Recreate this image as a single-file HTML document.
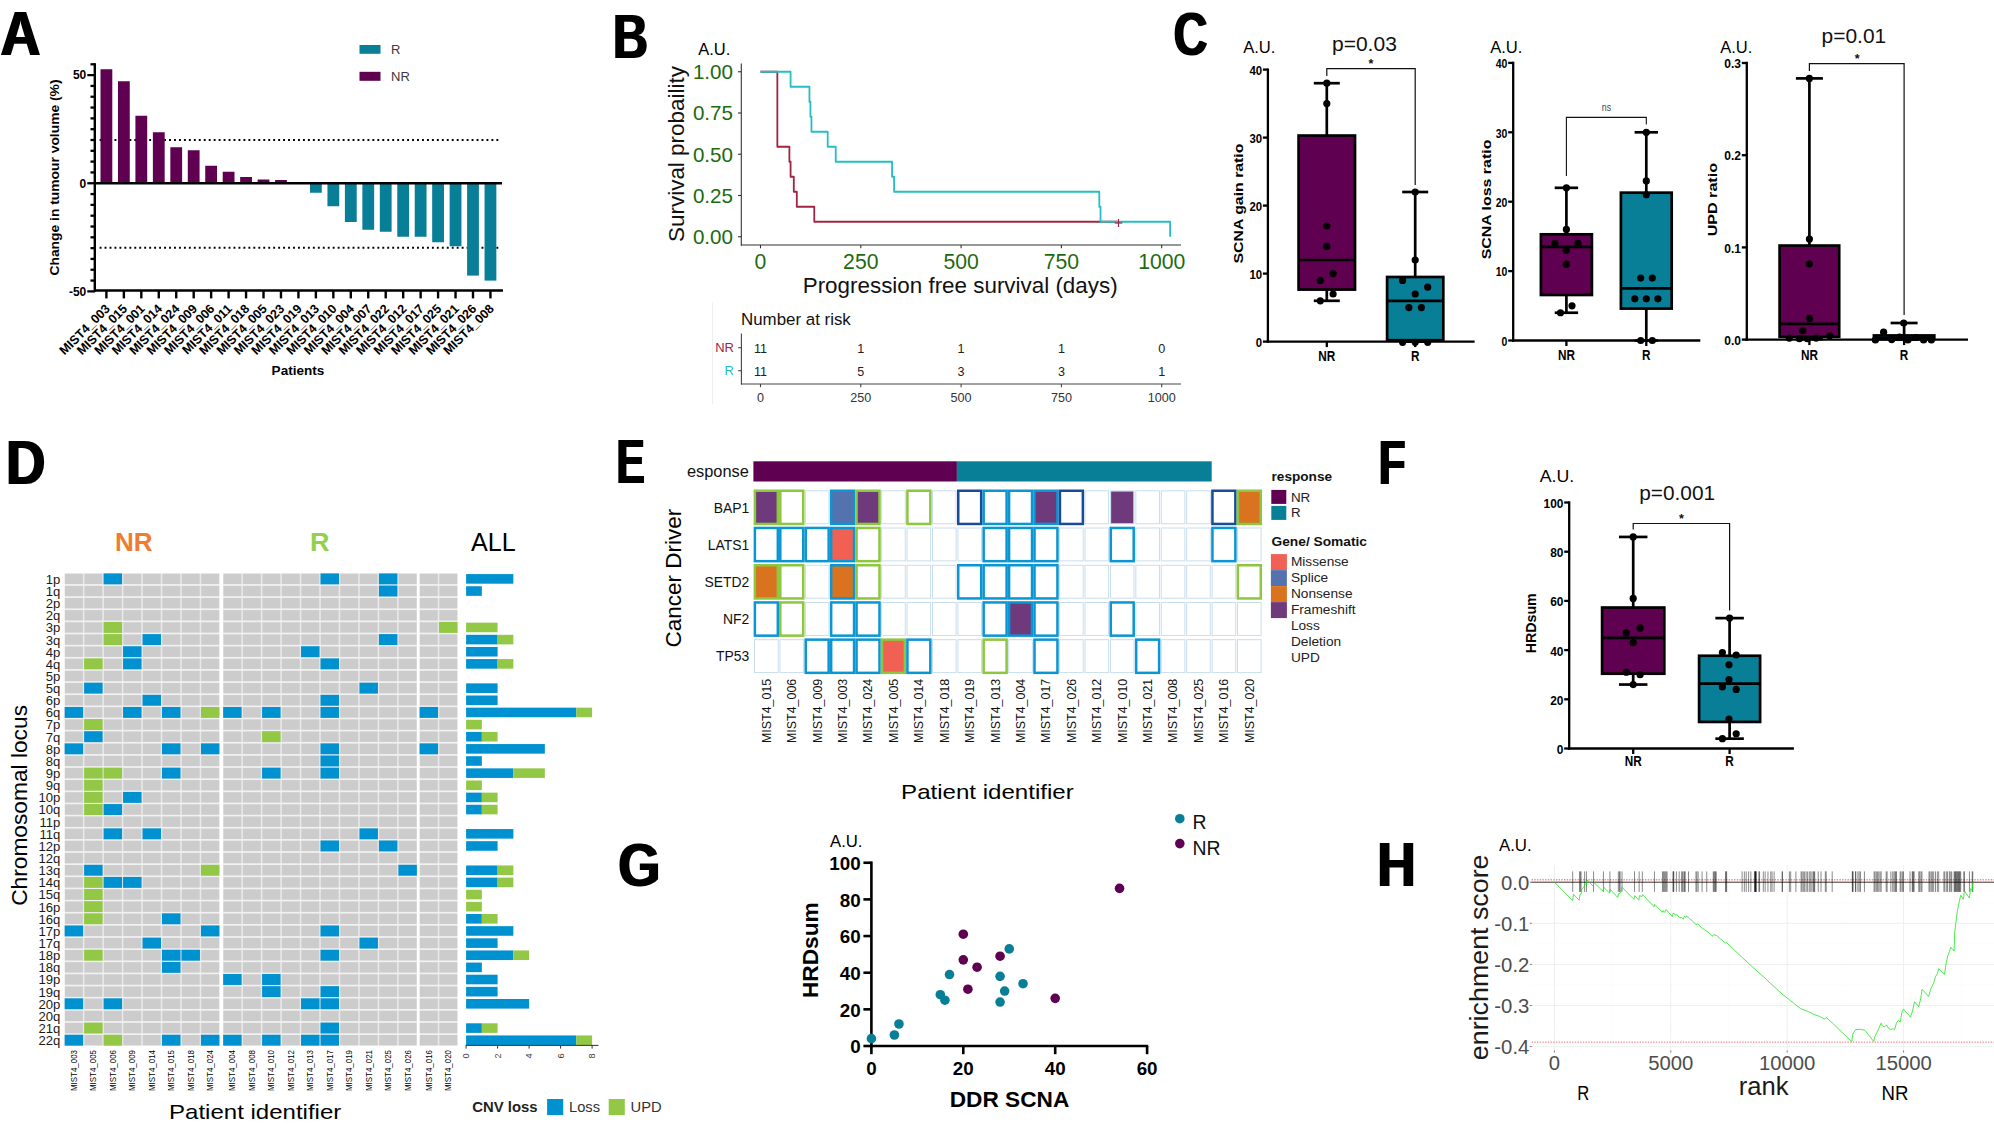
<!DOCTYPE html>
<html><head><meta charset="utf-8"><title>Figure</title>
<style>
html,body{margin:0;padding:0;background:#fff;}
body{width:1994px;height:1128px;overflow:hidden;}
svg{display:block;font-family:"Liberation Sans",sans-serif;}
</style></head><body>
<svg width="1994" height="1128" viewBox="0 0 1994 1128">
<defs><filter id="bd" x="-10%" y="-10%" width="120%" height="120%"><feMorphology operator="dilate" radius="1 0"/></filter></defs>
<rect width="1994" height="1128" fill="#fff"/>
<g filter="url(#bd)"><text transform="translate(0.62 55.20) scale(0.55373 0.62609)" font-size="100" font-weight="bold">A</text></g>
<line x1="99.60" y1="140.00" x2="501.00" y2="140.00" stroke="#000" stroke-width="1.9" stroke-dasharray="1.9 3.06"/>
<line x1="99.60" y1="247.70" x2="501.00" y2="247.70" stroke="#000" stroke-width="1.9" stroke-dasharray="1.9 3.06"/>
<rect x="100.50" y="69.25" width="11.80" height="114.00" fill="#5f0050"/>
<rect x="117.96" y="81.25" width="11.80" height="102.00" fill="#5f0050"/>
<rect x="135.41" y="115.75" width="11.80" height="67.50" fill="#5f0050"/>
<rect x="152.87" y="132.25" width="11.80" height="51.00" fill="#5f0050"/>
<rect x="170.33" y="147.25" width="11.80" height="36.00" fill="#5f0050"/>
<rect x="187.78" y="150.25" width="11.80" height="33.00" fill="#5f0050"/>
<rect x="205.24" y="165.75" width="11.80" height="17.50" fill="#5f0050"/>
<rect x="222.70" y="171.75" width="11.80" height="11.50" fill="#5f0050"/>
<rect x="240.16" y="177.00" width="11.80" height="6.25" fill="#5f0050"/>
<rect x="257.61" y="179.50" width="11.80" height="3.75" fill="#5f0050"/>
<rect x="275.07" y="180.00" width="11.80" height="3.25" fill="#5f0050"/>
<rect x="309.98" y="183.25" width="11.80" height="9.50" fill="#087e97"/>
<rect x="327.44" y="183.25" width="11.80" height="23.00" fill="#087e97"/>
<rect x="344.90" y="183.25" width="11.80" height="38.75" fill="#087e97"/>
<rect x="362.36" y="183.25" width="11.80" height="46.50" fill="#087e97"/>
<rect x="379.81" y="183.25" width="11.80" height="48.50" fill="#087e97"/>
<rect x="397.27" y="183.25" width="11.80" height="53.50" fill="#087e97"/>
<rect x="414.73" y="183.25" width="11.80" height="53.50" fill="#087e97"/>
<rect x="432.18" y="183.25" width="11.80" height="59.00" fill="#087e97"/>
<rect x="449.64" y="183.25" width="11.80" height="63.00" fill="#087e97"/>
<rect x="467.10" y="183.25" width="11.80" height="92.35" fill="#087e97"/>
<rect x="484.55" y="183.25" width="11.80" height="97.35" fill="#087e97"/>
<line x1="94.80" y1="63.20" x2="94.80" y2="291.80" stroke="#000" stroke-width="2.4"/>
<line x1="94.00" y1="183.25" x2="502.00" y2="183.25" stroke="#000" stroke-width="2.5"/>
<line x1="94.00" y1="290.60" x2="503.00" y2="290.60" stroke="#000" stroke-width="2.5"/>
<line x1="87.30" y1="291.38" x2="95.00" y2="291.38" stroke="#000" stroke-width="2.3"/>
<line x1="90.50" y1="280.56" x2="95.00" y2="280.56" stroke="#000" stroke-width="2.3"/>
<line x1="90.50" y1="269.75" x2="95.00" y2="269.75" stroke="#000" stroke-width="2.3"/>
<line x1="90.50" y1="258.94" x2="95.00" y2="258.94" stroke="#000" stroke-width="2.3"/>
<line x1="90.50" y1="248.12" x2="95.00" y2="248.12" stroke="#000" stroke-width="2.3"/>
<line x1="90.50" y1="237.31" x2="95.00" y2="237.31" stroke="#000" stroke-width="2.3"/>
<line x1="90.50" y1="226.50" x2="95.00" y2="226.50" stroke="#000" stroke-width="2.3"/>
<line x1="90.50" y1="215.69" x2="95.00" y2="215.69" stroke="#000" stroke-width="2.3"/>
<line x1="90.50" y1="204.88" x2="95.00" y2="204.88" stroke="#000" stroke-width="2.3"/>
<line x1="90.50" y1="194.06" x2="95.00" y2="194.06" stroke="#000" stroke-width="2.3"/>
<line x1="87.30" y1="183.25" x2="95.00" y2="183.25" stroke="#000" stroke-width="2.3"/>
<line x1="90.50" y1="172.44" x2="95.00" y2="172.44" stroke="#000" stroke-width="2.3"/>
<line x1="90.50" y1="161.62" x2="95.00" y2="161.62" stroke="#000" stroke-width="2.3"/>
<line x1="90.50" y1="150.81" x2="95.00" y2="150.81" stroke="#000" stroke-width="2.3"/>
<line x1="90.50" y1="140.00" x2="95.00" y2="140.00" stroke="#000" stroke-width="2.3"/>
<line x1="90.50" y1="129.19" x2="95.00" y2="129.19" stroke="#000" stroke-width="2.3"/>
<line x1="90.50" y1="118.38" x2="95.00" y2="118.38" stroke="#000" stroke-width="2.3"/>
<line x1="90.50" y1="107.56" x2="95.00" y2="107.56" stroke="#000" stroke-width="2.3"/>
<line x1="90.50" y1="96.75" x2="95.00" y2="96.75" stroke="#000" stroke-width="2.3"/>
<line x1="90.50" y1="85.94" x2="95.00" y2="85.94" stroke="#000" stroke-width="2.3"/>
<line x1="87.30" y1="75.12" x2="95.00" y2="75.12" stroke="#000" stroke-width="2.3"/>
<line x1="90.50" y1="64.31" x2="95.00" y2="64.31" stroke="#000" stroke-width="2.3"/>
<text x="86.30" y="79.30" font-size="12" font-weight="bold" text-anchor="end">50</text>
<text x="86.30" y="187.60" font-size="12" font-weight="bold" text-anchor="end">0</text>
<text x="86.30" y="296.30" font-size="12" font-weight="bold" text-anchor="end">-50</text>
<line x1="106.40" y1="290.60" x2="106.40" y2="298.40" stroke="#000" stroke-width="2.4"/>
<text x="110.60" y="309.50" font-size="12.6" font-weight="bold" text-anchor="end" transform="rotate(-45 110.60 309.50)">MIST4_003</text>
<line x1="123.86" y1="290.60" x2="123.86" y2="298.40" stroke="#000" stroke-width="2.4"/>
<text x="128.06" y="309.50" font-size="12.6" font-weight="bold" text-anchor="end" transform="rotate(-45 128.06 309.50)">MIST4_015</text>
<line x1="141.31" y1="290.60" x2="141.31" y2="298.40" stroke="#000" stroke-width="2.4"/>
<text x="145.51" y="309.50" font-size="12.6" font-weight="bold" text-anchor="end" transform="rotate(-45 145.51 309.50)">MIST4_001</text>
<line x1="158.77" y1="290.60" x2="158.77" y2="298.40" stroke="#000" stroke-width="2.4"/>
<text x="162.97" y="309.50" font-size="12.6" font-weight="bold" text-anchor="end" transform="rotate(-45 162.97 309.50)">MIST4_014</text>
<line x1="176.23" y1="290.60" x2="176.23" y2="298.40" stroke="#000" stroke-width="2.4"/>
<text x="180.43" y="309.50" font-size="12.6" font-weight="bold" text-anchor="end" transform="rotate(-45 180.43 309.50)">MIST4_024</text>
<line x1="193.69" y1="290.60" x2="193.69" y2="298.40" stroke="#000" stroke-width="2.4"/>
<text x="197.88" y="309.50" font-size="12.6" font-weight="bold" text-anchor="end" transform="rotate(-45 197.88 309.50)">MIST4_009</text>
<line x1="211.14" y1="290.60" x2="211.14" y2="298.40" stroke="#000" stroke-width="2.4"/>
<text x="215.34" y="309.50" font-size="12.6" font-weight="bold" text-anchor="end" transform="rotate(-45 215.34 309.50)">MIST4_006</text>
<line x1="228.60" y1="290.60" x2="228.60" y2="298.40" stroke="#000" stroke-width="2.4"/>
<text x="232.80" y="309.50" font-size="12.6" font-weight="bold" text-anchor="end" transform="rotate(-45 232.80 309.50)">MIST4_011</text>
<line x1="246.06" y1="290.60" x2="246.06" y2="298.40" stroke="#000" stroke-width="2.4"/>
<text x="250.26" y="309.50" font-size="12.6" font-weight="bold" text-anchor="end" transform="rotate(-45 250.26 309.50)">MIST4_018</text>
<line x1="263.51" y1="290.60" x2="263.51" y2="298.40" stroke="#000" stroke-width="2.4"/>
<text x="267.71" y="309.50" font-size="12.6" font-weight="bold" text-anchor="end" transform="rotate(-45 267.71 309.50)">MIST4_005</text>
<line x1="280.97" y1="290.60" x2="280.97" y2="298.40" stroke="#000" stroke-width="2.4"/>
<text x="285.17" y="309.50" font-size="12.6" font-weight="bold" text-anchor="end" transform="rotate(-45 285.17 309.50)">MIST4_023</text>
<line x1="298.43" y1="290.60" x2="298.43" y2="298.40" stroke="#000" stroke-width="2.4"/>
<text x="302.63" y="309.50" font-size="12.6" font-weight="bold" text-anchor="end" transform="rotate(-45 302.63 309.50)">MIST4_019</text>
<line x1="315.88" y1="290.60" x2="315.88" y2="298.40" stroke="#000" stroke-width="2.4"/>
<text x="320.08" y="309.50" font-size="12.6" font-weight="bold" text-anchor="end" transform="rotate(-45 320.08 309.50)">MIST4_013</text>
<line x1="333.34" y1="290.60" x2="333.34" y2="298.40" stroke="#000" stroke-width="2.4"/>
<text x="337.54" y="309.50" font-size="12.6" font-weight="bold" text-anchor="end" transform="rotate(-45 337.54 309.50)">MIST4_010</text>
<line x1="350.80" y1="290.60" x2="350.80" y2="298.40" stroke="#000" stroke-width="2.4"/>
<text x="355.00" y="309.50" font-size="12.6" font-weight="bold" text-anchor="end" transform="rotate(-45 355.00 309.50)">MIST4_004</text>
<line x1="368.25" y1="290.60" x2="368.25" y2="298.40" stroke="#000" stroke-width="2.4"/>
<text x="372.45" y="309.50" font-size="12.6" font-weight="bold" text-anchor="end" transform="rotate(-45 372.45 309.50)">MIST4_007</text>
<line x1="385.71" y1="290.60" x2="385.71" y2="298.40" stroke="#000" stroke-width="2.4"/>
<text x="389.91" y="309.50" font-size="12.6" font-weight="bold" text-anchor="end" transform="rotate(-45 389.91 309.50)">MIST4_022</text>
<line x1="403.17" y1="290.60" x2="403.17" y2="298.40" stroke="#000" stroke-width="2.4"/>
<text x="407.37" y="309.50" font-size="12.6" font-weight="bold" text-anchor="end" transform="rotate(-45 407.37 309.50)">MIST4_012</text>
<line x1="420.63" y1="290.60" x2="420.63" y2="298.40" stroke="#000" stroke-width="2.4"/>
<text x="424.83" y="309.50" font-size="12.6" font-weight="bold" text-anchor="end" transform="rotate(-45 424.83 309.50)">MIST4_017</text>
<line x1="438.08" y1="290.60" x2="438.08" y2="298.40" stroke="#000" stroke-width="2.4"/>
<text x="442.28" y="309.50" font-size="12.6" font-weight="bold" text-anchor="end" transform="rotate(-45 442.28 309.50)">MIST4_025</text>
<line x1="455.54" y1="290.60" x2="455.54" y2="298.40" stroke="#000" stroke-width="2.4"/>
<text x="459.74" y="309.50" font-size="12.6" font-weight="bold" text-anchor="end" transform="rotate(-45 459.74 309.50)">MIST4_021</text>
<line x1="473.00" y1="290.60" x2="473.00" y2="298.40" stroke="#000" stroke-width="2.4"/>
<text x="477.20" y="309.50" font-size="12.6" font-weight="bold" text-anchor="end" transform="rotate(-45 477.20 309.50)">MIST4_026</text>
<line x1="490.45" y1="290.60" x2="490.45" y2="298.40" stroke="#000" stroke-width="2.4"/>
<text x="494.65" y="309.50" font-size="12.6" font-weight="bold" text-anchor="end" transform="rotate(-45 494.65 309.50)">MIST4_008</text>
<text transform="translate(271.62 374.50) scale(0.13554 0.13103)" font-size="100" font-weight="bold">Patients</text>
<text transform="translate(59.00 275.55) rotate(-90) scale(0.13849 0.13000)" font-size="100" font-weight="bold">Change in tumour volume (%)</text>
<rect x="359.50" y="45.00" width="21.00" height="8.80" fill="#087e97"/>
<rect x="359.50" y="71.80" width="21.00" height="9.00" fill="#5f0050"/>
<text x="391.00" y="53.80" font-size="13" fill="#3a3a3a">R</text>
<text x="391.00" y="80.60" font-size="13" fill="#3a3a3a">NR</text>
<g filter="url(#bd)"><text transform="translate(613.06 58.20) scale(0.48361 0.62464)" font-size="100" font-weight="bold">B</text></g>
<text transform="translate(698.30 55.00) scale(0.16486 0.16232)" font-size="100">A.U.</text>
<line x1="741.30" y1="63.50" x2="741.30" y2="245.50" stroke="#333" stroke-width="1.1"/>
<line x1="740.80" y1="245.00" x2="1181.00" y2="245.00" stroke="#333" stroke-width="1.1"/>
<line x1="738.00" y1="71.75" x2="741.30" y2="71.75" stroke="#333" stroke-width="1.1"/>
<text x="733.00" y="79.15" font-size="20.6" text-anchor="end" fill="#1c6b10">1.00</text>
<line x1="738.00" y1="113.00" x2="741.30" y2="113.00" stroke="#333" stroke-width="1.1"/>
<text x="733.00" y="120.40" font-size="20.6" text-anchor="end" fill="#1c6b10">0.75</text>
<line x1="738.00" y1="154.25" x2="741.30" y2="154.25" stroke="#333" stroke-width="1.1"/>
<text x="733.00" y="161.65" font-size="20.6" text-anchor="end" fill="#1c6b10">0.50</text>
<line x1="738.00" y1="195.50" x2="741.30" y2="195.50" stroke="#333" stroke-width="1.1"/>
<text x="733.00" y="202.90" font-size="20.6" text-anchor="end" fill="#1c6b10">0.25</text>
<line x1="738.00" y1="236.75" x2="741.30" y2="236.75" stroke="#333" stroke-width="1.1"/>
<text x="733.00" y="244.15" font-size="20.6" text-anchor="end" fill="#1c6b10">0.00</text>
<line x1="760.50" y1="245.00" x2="760.50" y2="248.30" stroke="#333" stroke-width="1.1"/>
<text x="760.50" y="268.50" font-size="21.2" text-anchor="middle" fill="#1c6b10">0</text>
<line x1="860.80" y1="245.00" x2="860.80" y2="248.30" stroke="#333" stroke-width="1.1"/>
<text x="860.80" y="268.50" font-size="21.2" text-anchor="middle" fill="#1c6b10">250</text>
<line x1="961.10" y1="245.00" x2="961.10" y2="248.30" stroke="#333" stroke-width="1.1"/>
<text x="961.10" y="268.50" font-size="21.2" text-anchor="middle" fill="#1c6b10">500</text>
<line x1="1061.40" y1="245.00" x2="1061.40" y2="248.30" stroke="#333" stroke-width="1.1"/>
<text x="1061.40" y="268.50" font-size="21.2" text-anchor="middle" fill="#1c6b10">750</text>
<line x1="1161.70" y1="245.00" x2="1161.70" y2="248.30" stroke="#333" stroke-width="1.1"/>
<text x="1161.70" y="268.50" font-size="21.2" text-anchor="middle" fill="#1c6b10">1000</text>
<text transform="translate(683.70 242.01) rotate(-90) scale(0.22465 0.22300)" font-size="100" fill="#111">Survival probaility</text>
<text transform="translate(802.71 292.70) scale(0.22414 0.22621)" font-size="100" fill="#111">Progression free survival (days)</text>
<path d="M760.50 71.75 H777.35 V146.75 H789.39 V161.75 H790.59 V176.75 H793.80 V191.75 H796.81 V206.75 H814.26 V221.75 H1117.57" stroke="#a0243f" stroke-width="1.8" fill="none" stroke-linejoin="round"/>
<path d="M760.50 71.75 H790.59 V86.75 H809.45 V101.75 H810.45 V116.75 H811.45 V131.75 H827.70 V146.75 H835.73 V161.75 H892.09 V176.75 H894.10 V191.75 H1099.31 V206.75 H1100.52 V221.75 H1170.13 V236.75" stroke="#25bec4" stroke-width="1.8" fill="none" stroke-linejoin="round"/>
<line x1="1114.70" y1="223.00" x2="1122.30" y2="223.00" stroke="#a0243f" stroke-width="1.2"/>
<line x1="1118.50" y1="219.00" x2="1118.50" y2="227.00" stroke="#a0243f" stroke-width="1.2"/>
<line x1="712.50" y1="302.50" x2="712.50" y2="404.00" stroke="#efefef" stroke-width="1"/>
<text x="741.00" y="324.60" font-size="16.9" fill="#111">Number at risk</text>
<line x1="741.40" y1="333.50" x2="741.40" y2="384.50" stroke="#444" stroke-width="1.1"/>
<line x1="740.90" y1="384.00" x2="1181.00" y2="384.00" stroke="#444" stroke-width="1.1"/>
<line x1="738.20" y1="347.70" x2="741.40" y2="347.70" stroke="#444" stroke-width="1.1"/>
<line x1="738.20" y1="370.70" x2="741.40" y2="370.70" stroke="#444" stroke-width="1.1"/>
<text x="734.00" y="352.30" font-size="13" text-anchor="end" fill="#a0243f">NR</text>
<text x="734.00" y="375.30" font-size="13" text-anchor="end" fill="#25bec4">R</text>
<line x1="760.50" y1="384.00" x2="760.50" y2="387.20" stroke="#444" stroke-width="1.1"/>
<text x="760.50" y="352.60" font-size="12.6" text-anchor="middle" fill="#222">11</text>
<text x="760.50" y="375.70" font-size="12.6" text-anchor="middle" fill="#222">11</text>
<text x="760.50" y="401.60" font-size="12.6" text-anchor="middle" fill="#333">0</text>
<line x1="860.80" y1="384.00" x2="860.80" y2="387.20" stroke="#444" stroke-width="1.1"/>
<text x="860.80" y="352.60" font-size="12.6" text-anchor="middle" fill="#222">1</text>
<text x="860.80" y="375.70" font-size="12.6" text-anchor="middle" fill="#222">5</text>
<text x="860.80" y="401.60" font-size="12.6" text-anchor="middle" fill="#333">250</text>
<line x1="961.10" y1="384.00" x2="961.10" y2="387.20" stroke="#444" stroke-width="1.1"/>
<text x="961.10" y="352.60" font-size="12.6" text-anchor="middle" fill="#222">1</text>
<text x="961.10" y="375.70" font-size="12.6" text-anchor="middle" fill="#222">3</text>
<text x="961.10" y="401.60" font-size="12.6" text-anchor="middle" fill="#333">500</text>
<line x1="1061.40" y1="384.00" x2="1061.40" y2="387.20" stroke="#444" stroke-width="1.1"/>
<text x="1061.40" y="352.60" font-size="12.6" text-anchor="middle" fill="#222">1</text>
<text x="1061.40" y="375.70" font-size="12.6" text-anchor="middle" fill="#222">3</text>
<text x="1061.40" y="401.60" font-size="12.6" text-anchor="middle" fill="#333">750</text>
<line x1="1161.70" y1="384.00" x2="1161.70" y2="387.20" stroke="#444" stroke-width="1.1"/>
<text x="1161.70" y="352.60" font-size="12.6" text-anchor="middle" fill="#222">0</text>
<text x="1161.70" y="375.70" font-size="12.6" text-anchor="middle" fill="#222">1</text>
<text x="1161.70" y="401.60" font-size="12.6" text-anchor="middle" fill="#333">1000</text>
<g filter="url(#bd)"><text transform="translate(1173.64 54.98) scale(0.46565 0.61831)" font-size="100" font-weight="bold">C</text></g>
<text transform="translate(1243.20 53.20) scale(0.16595 0.16522)" font-size="100">A.U.</text>
<text transform="translate(1331.93 50.80) scale(0.21040 0.21000)" font-size="100" fill="#111">p=0.03</text>
<text x="1371.00" y="67.60" font-size="12.5" font-weight="bold" text-anchor="middle" fill="#111">*</text>
<line x1="1267.90" y1="68.45" x2="1267.90" y2="342.75" stroke="#000" stroke-width="2.3"/>
<line x1="1266.75" y1="341.60" x2="1474.60" y2="341.60" stroke="#000" stroke-width="2.3"/>
<line x1="1262.90" y1="341.60" x2="1267.90" y2="341.60" stroke="#000" stroke-width="2.3"/>
<text x="1262.10" y="346.82" font-size="12" font-weight="bold" text-anchor="end" textLength="6.34" lengthAdjust="spacingAndGlyphs">0</text>
<line x1="1262.90" y1="273.60" x2="1267.90" y2="273.60" stroke="#000" stroke-width="2.3"/>
<text x="1262.10" y="278.82" font-size="12" font-weight="bold" text-anchor="end" textLength="12.68" lengthAdjust="spacingAndGlyphs">10</text>
<line x1="1262.90" y1="205.60" x2="1267.90" y2="205.60" stroke="#000" stroke-width="2.3"/>
<text x="1262.10" y="210.82" font-size="12" font-weight="bold" text-anchor="end" textLength="12.68" lengthAdjust="spacingAndGlyphs">20</text>
<line x1="1262.90" y1="137.60" x2="1267.90" y2="137.60" stroke="#000" stroke-width="2.3"/>
<text x="1262.10" y="142.82" font-size="12" font-weight="bold" text-anchor="end" textLength="12.68" lengthAdjust="spacingAndGlyphs">30</text>
<line x1="1262.90" y1="69.60" x2="1267.90" y2="69.60" stroke="#000" stroke-width="2.3"/>
<text x="1262.10" y="74.82" font-size="12" font-weight="bold" text-anchor="end" textLength="12.68" lengthAdjust="spacingAndGlyphs">40</text>
<line x1="1326.80" y1="341.60" x2="1326.80" y2="347.10" stroke="#000" stroke-width="2.3"/>
<text x="1326.80" y="360.70" font-size="14" font-weight="bold" text-anchor="middle" textLength="16.99" lengthAdjust="spacingAndGlyphs">NR</text>
<line x1="1415.20" y1="341.60" x2="1415.20" y2="347.10" stroke="#000" stroke-width="2.3"/>
<text x="1415.20" y="360.70" font-size="14" font-weight="bold" text-anchor="middle" textLength="8.49" lengthAdjust="spacingAndGlyphs">R</text>
<path d="M1326.80 75.90 V68.70 H1415.20 V185.00" stroke="#111" stroke-width="1.2" fill="none"/>
<line x1="1326.80" y1="83.20" x2="1326.80" y2="135.56" stroke="#000" stroke-width="2.7"/>
<line x1="1326.80" y1="289.58" x2="1326.80" y2="300.80" stroke="#000" stroke-width="2.7"/>
<line x1="1313.80" y1="83.20" x2="1339.80" y2="83.20" stroke="#000" stroke-width="2.7"/>
<line x1="1313.80" y1="300.80" x2="1339.80" y2="300.80" stroke="#000" stroke-width="2.7"/>
<rect x="1298.60" y="135.56" width="56.40" height="154.02" fill="#5f0050" stroke="#000" stroke-width="2.7"/>
<line x1="1298.60" y1="260.00" x2="1355.00" y2="260.00" stroke="#000" stroke-width="2.7"/>
<circle cx="1326.80" cy="83.20" r="3.6" fill="#000"/>
<circle cx="1326.80" cy="103.60" r="3.6" fill="#000"/>
<circle cx="1326.80" cy="226.00" r="3.6" fill="#000"/>
<circle cx="1326.80" cy="246.40" r="3.6" fill="#000"/>
<circle cx="1333.10" cy="273.60" r="3.6" fill="#000"/>
<circle cx="1320.30" cy="280.40" r="3.6" fill="#000"/>
<circle cx="1333.10" cy="294.00" r="3.6" fill="#000"/>
<circle cx="1320.30" cy="300.80" r="3.6" fill="#000"/>
<line x1="1415.20" y1="192.00" x2="1415.20" y2="277.00" stroke="#000" stroke-width="2.7"/>
<line x1="1415.20" y1="340.24" x2="1415.20" y2="341.60" stroke="#000" stroke-width="2.7"/>
<line x1="1402.20" y1="192.00" x2="1428.20" y2="192.00" stroke="#000" stroke-width="2.7"/>
<line x1="1402.20" y1="341.60" x2="1428.20" y2="341.60" stroke="#000" stroke-width="2.7"/>
<rect x="1387.10" y="277.00" width="56.20" height="63.24" fill="#087e97" stroke="#000" stroke-width="2.7"/>
<line x1="1387.10" y1="300.80" x2="1443.30" y2="300.80" stroke="#000" stroke-width="2.7"/>
<circle cx="1415.20" cy="192.00" r="3.6" fill="#000"/>
<circle cx="1415.20" cy="260.00" r="3.6" fill="#000"/>
<circle cx="1402.60" cy="280.40" r="3.6" fill="#000"/>
<circle cx="1427.70" cy="287.20" r="3.6" fill="#000"/>
<circle cx="1415.20" cy="294.00" r="3.6" fill="#000"/>
<circle cx="1408.90" cy="307.60" r="3.6" fill="#000"/>
<circle cx="1421.40" cy="307.60" r="3.6" fill="#000"/>
<circle cx="1402.60" cy="342.28" r="3.6" fill="#000"/>
<circle cx="1415.20" cy="342.28" r="3.6" fill="#000"/>
<circle cx="1427.70" cy="342.28" r="3.6" fill="#000"/>
<text transform="translate(1242.80 263.48) rotate(-90) scale(0.15856 0.13400)" font-size="100" font-weight="bold">SCNA gain ratio</text>
<text transform="translate(1490.20 53.20) scale(0.16595 0.16522)" font-size="100">A.U.</text>
<line x1="1513.20" y1="61.75" x2="1513.20" y2="341.65" stroke="#000" stroke-width="2.3"/>
<line x1="1512.05" y1="340.50" x2="1700.30" y2="340.50" stroke="#000" stroke-width="2.3"/>
<line x1="1508.20" y1="340.50" x2="1513.20" y2="340.50" stroke="#000" stroke-width="2.3"/>
<text x="1507.40" y="345.72" font-size="12" font-weight="bold" text-anchor="end" textLength="5.81" lengthAdjust="spacingAndGlyphs">0</text>
<line x1="1508.20" y1="271.10" x2="1513.20" y2="271.10" stroke="#000" stroke-width="2.3"/>
<text x="1507.40" y="276.32" font-size="12" font-weight="bold" text-anchor="end" textLength="11.61" lengthAdjust="spacingAndGlyphs">10</text>
<line x1="1508.20" y1="201.70" x2="1513.20" y2="201.70" stroke="#000" stroke-width="2.3"/>
<text x="1507.40" y="206.92" font-size="12" font-weight="bold" text-anchor="end" textLength="11.61" lengthAdjust="spacingAndGlyphs">20</text>
<line x1="1508.20" y1="132.30" x2="1513.20" y2="132.30" stroke="#000" stroke-width="2.3"/>
<text x="1507.40" y="137.52" font-size="12" font-weight="bold" text-anchor="end" textLength="11.61" lengthAdjust="spacingAndGlyphs">30</text>
<line x1="1508.20" y1="62.90" x2="1513.20" y2="62.90" stroke="#000" stroke-width="2.3"/>
<text x="1507.40" y="68.12" font-size="12" font-weight="bold" text-anchor="end" textLength="11.61" lengthAdjust="spacingAndGlyphs">40</text>
<line x1="1566.40" y1="340.50" x2="1566.40" y2="346.00" stroke="#000" stroke-width="2.3"/>
<text x="1566.40" y="360.20" font-size="14" font-weight="bold" text-anchor="middle" textLength="16.99" lengthAdjust="spacingAndGlyphs">NR</text>
<line x1="1646.30" y1="340.50" x2="1646.30" y2="346.00" stroke="#000" stroke-width="2.3"/>
<text x="1646.30" y="360.20" font-size="14" font-weight="bold" text-anchor="middle" textLength="8.49" lengthAdjust="spacingAndGlyphs">R</text>
<path d="M1566.40 176.00 V117.40 H1646.30 V124.60" stroke="#111" stroke-width="1.1" fill="none"/>
<text x="1606.50" y="110.70" font-size="11" text-anchor="middle" fill="#444" textLength="9.30" lengthAdjust="spacingAndGlyphs">ns</text>
<line x1="1566.40" y1="187.82" x2="1566.40" y2="234.32" stroke="#000" stroke-width="2.7"/>
<line x1="1566.40" y1="294.97" x2="1566.40" y2="312.74" stroke="#000" stroke-width="2.7"/>
<line x1="1554.70" y1="187.82" x2="1578.10" y2="187.82" stroke="#000" stroke-width="2.7"/>
<line x1="1554.70" y1="312.74" x2="1578.10" y2="312.74" stroke="#000" stroke-width="2.7"/>
<rect x="1540.90" y="234.32" width="51.00" height="60.66" fill="#5f0050" stroke="#000" stroke-width="2.7"/>
<line x1="1540.90" y1="246.81" x2="1591.90" y2="246.81" stroke="#000" stroke-width="2.7"/>
<circle cx="1566.40" cy="187.82" r="3.6" fill="#000"/>
<circle cx="1566.40" cy="229.46" r="3.6" fill="#000"/>
<circle cx="1554.90" cy="243.34" r="3.6" fill="#000"/>
<circle cx="1578.00" cy="243.34" r="3.6" fill="#000"/>
<circle cx="1566.40" cy="250.28" r="3.6" fill="#000"/>
<circle cx="1566.40" cy="264.16" r="3.6" fill="#000"/>
<circle cx="1572.00" cy="305.80" r="3.6" fill="#000"/>
<circle cx="1560.50" cy="312.74" r="3.6" fill="#000"/>
<line x1="1646.30" y1="132.30" x2="1646.30" y2="192.68" stroke="#000" stroke-width="2.7"/>
<line x1="1646.30" y1="308.58" x2="1646.30" y2="340.50" stroke="#000" stroke-width="2.7"/>
<line x1="1634.60" y1="132.30" x2="1658.00" y2="132.30" stroke="#000" stroke-width="2.7"/>
<line x1="1634.60" y1="340.50" x2="1658.00" y2="340.50" stroke="#000" stroke-width="2.7"/>
<rect x="1620.90" y="192.68" width="50.80" height="115.90" fill="#087e97" stroke="#000" stroke-width="2.7"/>
<line x1="1620.90" y1="288.45" x2="1671.70" y2="288.45" stroke="#000" stroke-width="2.7"/>
<circle cx="1646.30" cy="132.30" r="3.6" fill="#000"/>
<circle cx="1646.30" cy="180.88" r="3.6" fill="#000"/>
<circle cx="1646.30" cy="194.76" r="3.6" fill="#000"/>
<circle cx="1640.70" cy="278.04" r="3.6" fill="#000"/>
<circle cx="1652.30" cy="278.04" r="3.6" fill="#000"/>
<circle cx="1634.80" cy="298.86" r="3.6" fill="#000"/>
<circle cx="1646.30" cy="298.86" r="3.6" fill="#000"/>
<circle cx="1657.90" cy="298.86" r="3.6" fill="#000"/>
<circle cx="1640.70" cy="340.50" r="3.6" fill="#000"/>
<circle cx="1652.30" cy="340.50" r="3.6" fill="#000"/>
<text transform="translate(1491.30 259.28) rotate(-90) scale(0.15919 0.13400)" font-size="100" font-weight="bold">SCNA loss ratio</text>
<text transform="translate(1720.30 53.20) scale(0.16486 0.16522)" font-size="100">A.U.</text>
<text transform="translate(1821.54 43.10) scale(0.20941 0.21000)" font-size="100" fill="#111">p=0.01</text>
<text x="1857.30" y="63.00" font-size="12.5" font-weight="bold" text-anchor="middle" fill="#111">*</text>
<line x1="1746.80" y1="61.85" x2="1746.80" y2="340.75" stroke="#000" stroke-width="2.3"/>
<line x1="1745.65" y1="339.60" x2="1968.00" y2="339.60" stroke="#000" stroke-width="2.3"/>
<line x1="1741.80" y1="339.60" x2="1746.80" y2="339.60" stroke="#000" stroke-width="2.3"/>
<text x="1741.00" y="344.82" font-size="12" font-weight="bold" text-anchor="end" textLength="16.68" lengthAdjust="spacingAndGlyphs">0.0</text>
<line x1="1741.80" y1="247.40" x2="1746.80" y2="247.40" stroke="#000" stroke-width="2.3"/>
<text x="1741.00" y="252.62" font-size="12" font-weight="bold" text-anchor="end" textLength="16.68" lengthAdjust="spacingAndGlyphs">0.1</text>
<line x1="1741.80" y1="155.20" x2="1746.80" y2="155.20" stroke="#000" stroke-width="2.3"/>
<text x="1741.00" y="160.42" font-size="12" font-weight="bold" text-anchor="end" textLength="16.68" lengthAdjust="spacingAndGlyphs">0.2</text>
<line x1="1741.80" y1="63.00" x2="1746.80" y2="63.00" stroke="#000" stroke-width="2.3"/>
<text x="1741.00" y="68.22" font-size="12" font-weight="bold" text-anchor="end" textLength="16.68" lengthAdjust="spacingAndGlyphs">0.3</text>
<line x1="1809.40" y1="339.60" x2="1809.40" y2="345.10" stroke="#000" stroke-width="2.3"/>
<text x="1809.40" y="359.90" font-size="14" font-weight="bold" text-anchor="middle" textLength="16.99" lengthAdjust="spacingAndGlyphs">NR</text>
<line x1="1904.10" y1="339.60" x2="1904.10" y2="345.10" stroke="#000" stroke-width="2.3"/>
<text x="1904.10" y="359.90" font-size="14" font-weight="bold" text-anchor="middle" textLength="8.49" lengthAdjust="spacingAndGlyphs">R</text>
<path d="M1809.40 71.00 V63.60 H1904.10 V314.90" stroke="#111" stroke-width="1.2" fill="none"/>
<line x1="1809.40" y1="78.40" x2="1809.40" y2="245.56" stroke="#000" stroke-width="2.7"/>
<line x1="1809.40" y1="336.83" x2="1809.40" y2="339.14" stroke="#000" stroke-width="2.7"/>
<line x1="1795.90" y1="78.40" x2="1822.90" y2="78.40" stroke="#000" stroke-width="2.7"/>
<line x1="1795.90" y1="339.14" x2="1822.90" y2="339.14" stroke="#000" stroke-width="2.7"/>
<rect x="1779.60" y="245.56" width="59.60" height="91.28" fill="#5f0050" stroke="#000" stroke-width="2.7"/>
<line x1="1779.60" y1="323.93" x2="1839.20" y2="323.93" stroke="#000" stroke-width="2.7"/>
<circle cx="1809.40" cy="78.40" r="3.6" fill="#000"/>
<circle cx="1809.40" cy="239.10" r="3.6" fill="#000"/>
<circle cx="1809.40" cy="264.00" r="3.6" fill="#000"/>
<circle cx="1809.60" cy="318.39" r="3.6" fill="#000"/>
<circle cx="1802.80" cy="330.84" r="3.6" fill="#000"/>
<circle cx="1789.30" cy="338.12" r="3.6" fill="#000"/>
<circle cx="1799.40" cy="338.68" r="3.6" fill="#000"/>
<circle cx="1807.40" cy="338.68" r="3.6" fill="#000"/>
<circle cx="1816.20" cy="338.12" r="3.6" fill="#000"/>
<circle cx="1829.70" cy="335.73" r="3.6" fill="#000"/>
<line x1="1904.10" y1="323.00" x2="1904.10" y2="335.45" stroke="#000" stroke-width="2.7"/>
<line x1="1904.10" y1="339.14" x2="1904.10" y2="339.60" stroke="#000" stroke-width="2.7"/>
<line x1="1890.60" y1="323.00" x2="1917.60" y2="323.00" stroke="#000" stroke-width="2.7"/>
<line x1="1890.60" y1="339.60" x2="1917.60" y2="339.60" stroke="#000" stroke-width="2.7"/>
<rect x="1873.90" y="335.45" width="60.40" height="3.69" fill="#087e97" stroke="#000" stroke-width="2.7"/>
<line x1="1873.90" y1="337.76" x2="1934.30" y2="337.76" stroke="#000" stroke-width="2.7"/>
<circle cx="1903.70" cy="323.00" r="3.6" fill="#000"/>
<circle cx="1883.60" cy="332.13" r="3.6" fill="#000"/>
<circle cx="1875.40" cy="339.97" r="3.6" fill="#000"/>
<circle cx="1891.70" cy="339.60" r="3.6" fill="#000"/>
<circle cx="1899.50" cy="337.02" r="3.6" fill="#000"/>
<circle cx="1907.90" cy="339.97" r="3.6" fill="#000"/>
<circle cx="1916.00" cy="337.48" r="3.6" fill="#000"/>
<circle cx="1923.60" cy="339.97" r="3.6" fill="#000"/>
<circle cx="1931.40" cy="339.97" r="3.6" fill="#000"/>
<text transform="translate(1717.00 236.37) rotate(-90) scale(0.16117 0.13400)" font-size="100" font-weight="bold">UPD ratio</text>
<g filter="url(#bd)"><text transform="translate(5.95 484.20) scale(0.54634 0.62609)" font-size="100" font-weight="bold">D</text></g>
<text transform="translate(115.01 550.90) scale(0.26052 0.25942)" font-size="100" font-weight="bold" fill="#ed7d31">NR</text>
<text transform="translate(310.04 550.90) scale(0.27087 0.25942)" font-size="100" font-weight="bold" fill="#92d050">R</text>
<text transform="translate(471.00 550.60) scale(0.25143 0.25507)" font-size="100">ALL</text>
<rect x="64.65" y="573.40" width="154.79" height="472.27" fill="#f1f1f1"/>
<rect x="64.65" y="573.70" width="154.79" height="10.35" fill="#e9e9e9"/>
<rect x="64.65" y="585.84" width="154.79" height="10.35" fill="#e9e9e9"/>
<rect x="64.65" y="597.98" width="154.79" height="10.35" fill="#e9e9e9"/>
<rect x="64.65" y="610.12" width="154.79" height="10.35" fill="#e9e9e9"/>
<rect x="64.65" y="622.26" width="154.79" height="10.35" fill="#e9e9e9"/>
<rect x="64.65" y="634.40" width="154.79" height="10.35" fill="#e9e9e9"/>
<rect x="64.65" y="646.54" width="154.79" height="10.35" fill="#e9e9e9"/>
<rect x="64.65" y="658.68" width="154.79" height="10.35" fill="#e9e9e9"/>
<rect x="64.65" y="670.82" width="154.79" height="10.35" fill="#e9e9e9"/>
<rect x="64.65" y="682.96" width="154.79" height="10.35" fill="#e9e9e9"/>
<rect x="64.65" y="695.10" width="154.79" height="10.35" fill="#e9e9e9"/>
<rect x="64.65" y="707.24" width="154.79" height="10.35" fill="#e9e9e9"/>
<rect x="64.65" y="719.38" width="154.79" height="10.35" fill="#e9e9e9"/>
<rect x="64.65" y="731.52" width="154.79" height="10.35" fill="#e9e9e9"/>
<rect x="64.65" y="743.66" width="154.79" height="10.35" fill="#e9e9e9"/>
<rect x="64.65" y="755.80" width="154.79" height="10.35" fill="#e9e9e9"/>
<rect x="64.65" y="767.94" width="154.79" height="10.35" fill="#e9e9e9"/>
<rect x="64.65" y="780.08" width="154.79" height="10.35" fill="#e9e9e9"/>
<rect x="64.65" y="792.22" width="154.79" height="10.35" fill="#e9e9e9"/>
<rect x="64.65" y="804.36" width="154.79" height="10.35" fill="#e9e9e9"/>
<rect x="64.65" y="816.50" width="154.79" height="10.35" fill="#e9e9e9"/>
<rect x="64.65" y="828.64" width="154.79" height="10.35" fill="#e9e9e9"/>
<rect x="64.65" y="840.78" width="154.79" height="10.35" fill="#e9e9e9"/>
<rect x="64.65" y="852.92" width="154.79" height="10.35" fill="#e9e9e9"/>
<rect x="64.65" y="865.06" width="154.79" height="10.35" fill="#e9e9e9"/>
<rect x="64.65" y="877.20" width="154.79" height="10.35" fill="#e9e9e9"/>
<rect x="64.65" y="889.34" width="154.79" height="10.35" fill="#e9e9e9"/>
<rect x="64.65" y="901.48" width="154.79" height="10.35" fill="#e9e9e9"/>
<rect x="64.65" y="913.62" width="154.79" height="10.35" fill="#e9e9e9"/>
<rect x="64.65" y="925.76" width="154.79" height="10.35" fill="#e9e9e9"/>
<rect x="64.65" y="937.90" width="154.79" height="10.35" fill="#e9e9e9"/>
<rect x="64.65" y="950.04" width="154.79" height="10.35" fill="#e9e9e9"/>
<rect x="64.65" y="962.18" width="154.79" height="10.35" fill="#e9e9e9"/>
<rect x="64.65" y="974.32" width="154.79" height="10.35" fill="#e9e9e9"/>
<rect x="64.65" y="986.46" width="154.79" height="10.35" fill="#e9e9e9"/>
<rect x="64.65" y="998.60" width="154.79" height="10.35" fill="#e9e9e9"/>
<rect x="64.65" y="1010.74" width="154.79" height="10.35" fill="#e9e9e9"/>
<rect x="64.65" y="1022.88" width="154.79" height="10.35" fill="#e9e9e9"/>
<rect x="64.65" y="1035.02" width="154.79" height="10.35" fill="#e9e9e9"/>
<rect x="223.15" y="573.40" width="193.73" height="472.27" fill="#f1f1f1"/>
<rect x="223.15" y="573.70" width="193.73" height="10.35" fill="#e9e9e9"/>
<rect x="223.15" y="585.84" width="193.73" height="10.35" fill="#e9e9e9"/>
<rect x="223.15" y="597.98" width="193.73" height="10.35" fill="#e9e9e9"/>
<rect x="223.15" y="610.12" width="193.73" height="10.35" fill="#e9e9e9"/>
<rect x="223.15" y="622.26" width="193.73" height="10.35" fill="#e9e9e9"/>
<rect x="223.15" y="634.40" width="193.73" height="10.35" fill="#e9e9e9"/>
<rect x="223.15" y="646.54" width="193.73" height="10.35" fill="#e9e9e9"/>
<rect x="223.15" y="658.68" width="193.73" height="10.35" fill="#e9e9e9"/>
<rect x="223.15" y="670.82" width="193.73" height="10.35" fill="#e9e9e9"/>
<rect x="223.15" y="682.96" width="193.73" height="10.35" fill="#e9e9e9"/>
<rect x="223.15" y="695.10" width="193.73" height="10.35" fill="#e9e9e9"/>
<rect x="223.15" y="707.24" width="193.73" height="10.35" fill="#e9e9e9"/>
<rect x="223.15" y="719.38" width="193.73" height="10.35" fill="#e9e9e9"/>
<rect x="223.15" y="731.52" width="193.73" height="10.35" fill="#e9e9e9"/>
<rect x="223.15" y="743.66" width="193.73" height="10.35" fill="#e9e9e9"/>
<rect x="223.15" y="755.80" width="193.73" height="10.35" fill="#e9e9e9"/>
<rect x="223.15" y="767.94" width="193.73" height="10.35" fill="#e9e9e9"/>
<rect x="223.15" y="780.08" width="193.73" height="10.35" fill="#e9e9e9"/>
<rect x="223.15" y="792.22" width="193.73" height="10.35" fill="#e9e9e9"/>
<rect x="223.15" y="804.36" width="193.73" height="10.35" fill="#e9e9e9"/>
<rect x="223.15" y="816.50" width="193.73" height="10.35" fill="#e9e9e9"/>
<rect x="223.15" y="828.64" width="193.73" height="10.35" fill="#e9e9e9"/>
<rect x="223.15" y="840.78" width="193.73" height="10.35" fill="#e9e9e9"/>
<rect x="223.15" y="852.92" width="193.73" height="10.35" fill="#e9e9e9"/>
<rect x="223.15" y="865.06" width="193.73" height="10.35" fill="#e9e9e9"/>
<rect x="223.15" y="877.20" width="193.73" height="10.35" fill="#e9e9e9"/>
<rect x="223.15" y="889.34" width="193.73" height="10.35" fill="#e9e9e9"/>
<rect x="223.15" y="901.48" width="193.73" height="10.35" fill="#e9e9e9"/>
<rect x="223.15" y="913.62" width="193.73" height="10.35" fill="#e9e9e9"/>
<rect x="223.15" y="925.76" width="193.73" height="10.35" fill="#e9e9e9"/>
<rect x="223.15" y="937.90" width="193.73" height="10.35" fill="#e9e9e9"/>
<rect x="223.15" y="950.04" width="193.73" height="10.35" fill="#e9e9e9"/>
<rect x="223.15" y="962.18" width="193.73" height="10.35" fill="#e9e9e9"/>
<rect x="223.15" y="974.32" width="193.73" height="10.35" fill="#e9e9e9"/>
<rect x="223.15" y="986.46" width="193.73" height="10.35" fill="#e9e9e9"/>
<rect x="223.15" y="998.60" width="193.73" height="10.35" fill="#e9e9e9"/>
<rect x="223.15" y="1010.74" width="193.73" height="10.35" fill="#e9e9e9"/>
<rect x="223.15" y="1022.88" width="193.73" height="10.35" fill="#e9e9e9"/>
<rect x="223.15" y="1035.02" width="193.73" height="10.35" fill="#e9e9e9"/>
<rect x="419.55" y="573.40" width="37.97" height="472.27" fill="#f1f1f1"/>
<rect x="419.55" y="573.70" width="37.97" height="10.35" fill="#e9e9e9"/>
<rect x="419.55" y="585.84" width="37.97" height="10.35" fill="#e9e9e9"/>
<rect x="419.55" y="597.98" width="37.97" height="10.35" fill="#e9e9e9"/>
<rect x="419.55" y="610.12" width="37.97" height="10.35" fill="#e9e9e9"/>
<rect x="419.55" y="622.26" width="37.97" height="10.35" fill="#e9e9e9"/>
<rect x="419.55" y="634.40" width="37.97" height="10.35" fill="#e9e9e9"/>
<rect x="419.55" y="646.54" width="37.97" height="10.35" fill="#e9e9e9"/>
<rect x="419.55" y="658.68" width="37.97" height="10.35" fill="#e9e9e9"/>
<rect x="419.55" y="670.82" width="37.97" height="10.35" fill="#e9e9e9"/>
<rect x="419.55" y="682.96" width="37.97" height="10.35" fill="#e9e9e9"/>
<rect x="419.55" y="695.10" width="37.97" height="10.35" fill="#e9e9e9"/>
<rect x="419.55" y="707.24" width="37.97" height="10.35" fill="#e9e9e9"/>
<rect x="419.55" y="719.38" width="37.97" height="10.35" fill="#e9e9e9"/>
<rect x="419.55" y="731.52" width="37.97" height="10.35" fill="#e9e9e9"/>
<rect x="419.55" y="743.66" width="37.97" height="10.35" fill="#e9e9e9"/>
<rect x="419.55" y="755.80" width="37.97" height="10.35" fill="#e9e9e9"/>
<rect x="419.55" y="767.94" width="37.97" height="10.35" fill="#e9e9e9"/>
<rect x="419.55" y="780.08" width="37.97" height="10.35" fill="#e9e9e9"/>
<rect x="419.55" y="792.22" width="37.97" height="10.35" fill="#e9e9e9"/>
<rect x="419.55" y="804.36" width="37.97" height="10.35" fill="#e9e9e9"/>
<rect x="419.55" y="816.50" width="37.97" height="10.35" fill="#e9e9e9"/>
<rect x="419.55" y="828.64" width="37.97" height="10.35" fill="#e9e9e9"/>
<rect x="419.55" y="840.78" width="37.97" height="10.35" fill="#e9e9e9"/>
<rect x="419.55" y="852.92" width="37.97" height="10.35" fill="#e9e9e9"/>
<rect x="419.55" y="865.06" width="37.97" height="10.35" fill="#e9e9e9"/>
<rect x="419.55" y="877.20" width="37.97" height="10.35" fill="#e9e9e9"/>
<rect x="419.55" y="889.34" width="37.97" height="10.35" fill="#e9e9e9"/>
<rect x="419.55" y="901.48" width="37.97" height="10.35" fill="#e9e9e9"/>
<rect x="419.55" y="913.62" width="37.97" height="10.35" fill="#e9e9e9"/>
<rect x="419.55" y="925.76" width="37.97" height="10.35" fill="#e9e9e9"/>
<rect x="419.55" y="937.90" width="37.97" height="10.35" fill="#e9e9e9"/>
<rect x="419.55" y="950.04" width="37.97" height="10.35" fill="#e9e9e9"/>
<rect x="419.55" y="962.18" width="37.97" height="10.35" fill="#e9e9e9"/>
<rect x="419.55" y="974.32" width="37.97" height="10.35" fill="#e9e9e9"/>
<rect x="419.55" y="986.46" width="37.97" height="10.35" fill="#e9e9e9"/>
<rect x="419.55" y="998.60" width="37.97" height="10.35" fill="#e9e9e9"/>
<rect x="419.55" y="1010.74" width="37.97" height="10.35" fill="#e9e9e9"/>
<rect x="419.55" y="1022.88" width="37.97" height="10.35" fill="#e9e9e9"/>
<rect x="419.55" y="1035.02" width="37.97" height="10.35" fill="#e9e9e9"/>
<rect x="64.95" y="573.70" width="17.90" height="10.35" fill="#cccccc"/>
<rect x="84.42" y="573.70" width="17.90" height="10.35" fill="#cccccc"/>
<rect x="103.59" y="573.40" width="18.50" height="10.95" fill="#0092d0"/>
<rect x="123.36" y="573.70" width="17.90" height="10.35" fill="#cccccc"/>
<rect x="142.83" y="573.70" width="17.90" height="10.35" fill="#cccccc"/>
<rect x="162.30" y="573.70" width="17.90" height="10.35" fill="#cccccc"/>
<rect x="181.77" y="573.70" width="17.90" height="10.35" fill="#cccccc"/>
<rect x="201.24" y="573.70" width="17.90" height="10.35" fill="#cccccc"/>
<rect x="223.45" y="573.70" width="17.90" height="10.35" fill="#cccccc"/>
<rect x="242.92" y="573.70" width="17.90" height="10.35" fill="#cccccc"/>
<rect x="262.39" y="573.70" width="17.90" height="10.35" fill="#cccccc"/>
<rect x="281.86" y="573.70" width="17.90" height="10.35" fill="#cccccc"/>
<rect x="301.33" y="573.70" width="17.90" height="10.35" fill="#cccccc"/>
<rect x="320.50" y="573.40" width="18.50" height="10.95" fill="#0092d0"/>
<rect x="340.27" y="573.70" width="17.90" height="10.35" fill="#cccccc"/>
<rect x="359.74" y="573.70" width="17.90" height="10.35" fill="#cccccc"/>
<rect x="378.91" y="573.40" width="18.50" height="10.95" fill="#0092d0"/>
<rect x="398.68" y="573.70" width="17.90" height="10.35" fill="#cccccc"/>
<rect x="419.85" y="573.70" width="17.90" height="10.35" fill="#cccccc"/>
<rect x="439.32" y="573.70" width="17.90" height="10.35" fill="#cccccc"/>
<text x="60.30" y="583.80" font-size="13.1" text-anchor="end" fill="#1a1a1a">1p</text>
<rect x="466.10" y="574.10" width="47.25" height="9.60" fill="#0092d0"/>
<rect x="64.95" y="585.84" width="17.90" height="10.35" fill="#cccccc"/>
<rect x="84.42" y="585.84" width="17.90" height="10.35" fill="#cccccc"/>
<rect x="103.89" y="585.84" width="17.90" height="10.35" fill="#cccccc"/>
<rect x="123.36" y="585.84" width="17.90" height="10.35" fill="#cccccc"/>
<rect x="142.83" y="585.84" width="17.90" height="10.35" fill="#cccccc"/>
<rect x="162.30" y="585.84" width="17.90" height="10.35" fill="#cccccc"/>
<rect x="181.77" y="585.84" width="17.90" height="10.35" fill="#cccccc"/>
<rect x="201.24" y="585.84" width="17.90" height="10.35" fill="#cccccc"/>
<rect x="223.45" y="585.84" width="17.90" height="10.35" fill="#cccccc"/>
<rect x="242.92" y="585.84" width="17.90" height="10.35" fill="#cccccc"/>
<rect x="262.39" y="585.84" width="17.90" height="10.35" fill="#cccccc"/>
<rect x="281.86" y="585.84" width="17.90" height="10.35" fill="#cccccc"/>
<rect x="301.33" y="585.84" width="17.90" height="10.35" fill="#cccccc"/>
<rect x="320.80" y="585.84" width="17.90" height="10.35" fill="#cccccc"/>
<rect x="340.27" y="585.84" width="17.90" height="10.35" fill="#cccccc"/>
<rect x="359.74" y="585.84" width="17.90" height="10.35" fill="#cccccc"/>
<rect x="378.91" y="585.54" width="18.50" height="10.95" fill="#0092d0"/>
<rect x="398.68" y="585.84" width="17.90" height="10.35" fill="#cccccc"/>
<rect x="419.85" y="585.84" width="17.90" height="10.35" fill="#cccccc"/>
<rect x="439.32" y="585.84" width="17.90" height="10.35" fill="#cccccc"/>
<text x="60.30" y="595.94" font-size="13.1" text-anchor="end" fill="#1a1a1a">1q</text>
<rect x="466.10" y="586.24" width="15.75" height="9.60" fill="#0092d0"/>
<rect x="64.95" y="597.98" width="17.90" height="10.35" fill="#cccccc"/>
<rect x="84.42" y="597.98" width="17.90" height="10.35" fill="#cccccc"/>
<rect x="103.89" y="597.98" width="17.90" height="10.35" fill="#cccccc"/>
<rect x="123.36" y="597.98" width="17.90" height="10.35" fill="#cccccc"/>
<rect x="142.83" y="597.98" width="17.90" height="10.35" fill="#cccccc"/>
<rect x="162.30" y="597.98" width="17.90" height="10.35" fill="#cccccc"/>
<rect x="181.77" y="597.98" width="17.90" height="10.35" fill="#cccccc"/>
<rect x="201.24" y="597.98" width="17.90" height="10.35" fill="#cccccc"/>
<rect x="223.45" y="597.98" width="17.90" height="10.35" fill="#cccccc"/>
<rect x="242.92" y="597.98" width="17.90" height="10.35" fill="#cccccc"/>
<rect x="262.39" y="597.98" width="17.90" height="10.35" fill="#cccccc"/>
<rect x="281.86" y="597.98" width="17.90" height="10.35" fill="#cccccc"/>
<rect x="301.33" y="597.98" width="17.90" height="10.35" fill="#cccccc"/>
<rect x="320.80" y="597.98" width="17.90" height="10.35" fill="#cccccc"/>
<rect x="340.27" y="597.98" width="17.90" height="10.35" fill="#cccccc"/>
<rect x="359.74" y="597.98" width="17.90" height="10.35" fill="#cccccc"/>
<rect x="379.21" y="597.98" width="17.90" height="10.35" fill="#cccccc"/>
<rect x="398.68" y="597.98" width="17.90" height="10.35" fill="#cccccc"/>
<rect x="419.85" y="597.98" width="17.90" height="10.35" fill="#cccccc"/>
<rect x="439.32" y="597.98" width="17.90" height="10.35" fill="#cccccc"/>
<text x="60.30" y="608.08" font-size="13.1" text-anchor="end" fill="#1a1a1a">2p</text>
<rect x="64.95" y="610.12" width="17.90" height="10.35" fill="#cccccc"/>
<rect x="84.42" y="610.12" width="17.90" height="10.35" fill="#cccccc"/>
<rect x="103.89" y="610.12" width="17.90" height="10.35" fill="#cccccc"/>
<rect x="123.36" y="610.12" width="17.90" height="10.35" fill="#cccccc"/>
<rect x="142.83" y="610.12" width="17.90" height="10.35" fill="#cccccc"/>
<rect x="162.30" y="610.12" width="17.90" height="10.35" fill="#cccccc"/>
<rect x="181.77" y="610.12" width="17.90" height="10.35" fill="#cccccc"/>
<rect x="201.24" y="610.12" width="17.90" height="10.35" fill="#cccccc"/>
<rect x="223.45" y="610.12" width="17.90" height="10.35" fill="#cccccc"/>
<rect x="242.92" y="610.12" width="17.90" height="10.35" fill="#cccccc"/>
<rect x="262.39" y="610.12" width="17.90" height="10.35" fill="#cccccc"/>
<rect x="281.86" y="610.12" width="17.90" height="10.35" fill="#cccccc"/>
<rect x="301.33" y="610.12" width="17.90" height="10.35" fill="#cccccc"/>
<rect x="320.80" y="610.12" width="17.90" height="10.35" fill="#cccccc"/>
<rect x="340.27" y="610.12" width="17.90" height="10.35" fill="#cccccc"/>
<rect x="359.74" y="610.12" width="17.90" height="10.35" fill="#cccccc"/>
<rect x="379.21" y="610.12" width="17.90" height="10.35" fill="#cccccc"/>
<rect x="398.68" y="610.12" width="17.90" height="10.35" fill="#cccccc"/>
<rect x="419.85" y="610.12" width="17.90" height="10.35" fill="#cccccc"/>
<rect x="439.32" y="610.12" width="17.90" height="10.35" fill="#cccccc"/>
<text x="60.30" y="620.22" font-size="13.1" text-anchor="end" fill="#1a1a1a">2q</text>
<rect x="64.95" y="622.26" width="17.90" height="10.35" fill="#cccccc"/>
<rect x="84.42" y="622.26" width="17.90" height="10.35" fill="#cccccc"/>
<rect x="103.59" y="621.96" width="18.50" height="10.95" fill="#92c846"/>
<rect x="123.36" y="622.26" width="17.90" height="10.35" fill="#cccccc"/>
<rect x="142.83" y="622.26" width="17.90" height="10.35" fill="#cccccc"/>
<rect x="162.30" y="622.26" width="17.90" height="10.35" fill="#cccccc"/>
<rect x="181.77" y="622.26" width="17.90" height="10.35" fill="#cccccc"/>
<rect x="201.24" y="622.26" width="17.90" height="10.35" fill="#cccccc"/>
<rect x="223.45" y="622.26" width="17.90" height="10.35" fill="#cccccc"/>
<rect x="242.92" y="622.26" width="17.90" height="10.35" fill="#cccccc"/>
<rect x="262.39" y="622.26" width="17.90" height="10.35" fill="#cccccc"/>
<rect x="281.86" y="622.26" width="17.90" height="10.35" fill="#cccccc"/>
<rect x="301.33" y="622.26" width="17.90" height="10.35" fill="#cccccc"/>
<rect x="320.80" y="622.26" width="17.90" height="10.35" fill="#cccccc"/>
<rect x="340.27" y="622.26" width="17.90" height="10.35" fill="#cccccc"/>
<rect x="359.74" y="622.26" width="17.90" height="10.35" fill="#cccccc"/>
<rect x="379.21" y="622.26" width="17.90" height="10.35" fill="#cccccc"/>
<rect x="398.68" y="622.26" width="17.90" height="10.35" fill="#cccccc"/>
<rect x="419.85" y="622.26" width="17.90" height="10.35" fill="#cccccc"/>
<rect x="439.02" y="621.96" width="18.50" height="10.95" fill="#92c846"/>
<text x="60.30" y="632.36" font-size="13.1" text-anchor="end" fill="#1a1a1a">3p</text>
<rect x="466.10" y="622.66" width="31.50" height="9.60" fill="#92c846"/>
<rect x="64.95" y="634.40" width="17.90" height="10.35" fill="#cccccc"/>
<rect x="84.42" y="634.40" width="17.90" height="10.35" fill="#cccccc"/>
<rect x="103.59" y="634.10" width="18.50" height="10.95" fill="#92c846"/>
<rect x="123.36" y="634.40" width="17.90" height="10.35" fill="#cccccc"/>
<rect x="142.53" y="634.10" width="18.50" height="10.95" fill="#0092d0"/>
<rect x="162.30" y="634.40" width="17.90" height="10.35" fill="#cccccc"/>
<rect x="181.77" y="634.40" width="17.90" height="10.35" fill="#cccccc"/>
<rect x="201.24" y="634.40" width="17.90" height="10.35" fill="#cccccc"/>
<rect x="223.45" y="634.40" width="17.90" height="10.35" fill="#cccccc"/>
<rect x="242.92" y="634.40" width="17.90" height="10.35" fill="#cccccc"/>
<rect x="262.39" y="634.40" width="17.90" height="10.35" fill="#cccccc"/>
<rect x="281.86" y="634.40" width="17.90" height="10.35" fill="#cccccc"/>
<rect x="301.33" y="634.40" width="17.90" height="10.35" fill="#cccccc"/>
<rect x="320.80" y="634.40" width="17.90" height="10.35" fill="#cccccc"/>
<rect x="340.27" y="634.40" width="17.90" height="10.35" fill="#cccccc"/>
<rect x="359.74" y="634.40" width="17.90" height="10.35" fill="#cccccc"/>
<rect x="378.91" y="634.10" width="18.50" height="10.95" fill="#0092d0"/>
<rect x="398.68" y="634.40" width="17.90" height="10.35" fill="#cccccc"/>
<rect x="419.85" y="634.40" width="17.90" height="10.35" fill="#cccccc"/>
<rect x="439.32" y="634.40" width="17.90" height="10.35" fill="#cccccc"/>
<text x="60.30" y="644.50" font-size="13.1" text-anchor="end" fill="#1a1a1a">3q</text>
<rect x="466.10" y="634.80" width="31.50" height="9.60" fill="#0092d0"/>
<rect x="497.60" y="634.80" width="15.75" height="9.60" fill="#92c846"/>
<rect x="64.95" y="646.54" width="17.90" height="10.35" fill="#cccccc"/>
<rect x="84.42" y="646.54" width="17.90" height="10.35" fill="#cccccc"/>
<rect x="103.89" y="646.54" width="17.90" height="10.35" fill="#cccccc"/>
<rect x="123.06" y="646.24" width="18.50" height="10.95" fill="#0092d0"/>
<rect x="142.83" y="646.54" width="17.90" height="10.35" fill="#cccccc"/>
<rect x="162.30" y="646.54" width="17.90" height="10.35" fill="#cccccc"/>
<rect x="181.77" y="646.54" width="17.90" height="10.35" fill="#cccccc"/>
<rect x="201.24" y="646.54" width="17.90" height="10.35" fill="#cccccc"/>
<rect x="223.45" y="646.54" width="17.90" height="10.35" fill="#cccccc"/>
<rect x="242.92" y="646.54" width="17.90" height="10.35" fill="#cccccc"/>
<rect x="262.39" y="646.54" width="17.90" height="10.35" fill="#cccccc"/>
<rect x="281.86" y="646.54" width="17.90" height="10.35" fill="#cccccc"/>
<rect x="301.03" y="646.24" width="18.50" height="10.95" fill="#0092d0"/>
<rect x="320.80" y="646.54" width="17.90" height="10.35" fill="#cccccc"/>
<rect x="340.27" y="646.54" width="17.90" height="10.35" fill="#cccccc"/>
<rect x="359.74" y="646.54" width="17.90" height="10.35" fill="#cccccc"/>
<rect x="379.21" y="646.54" width="17.90" height="10.35" fill="#cccccc"/>
<rect x="398.68" y="646.54" width="17.90" height="10.35" fill="#cccccc"/>
<rect x="419.85" y="646.54" width="17.90" height="10.35" fill="#cccccc"/>
<rect x="439.32" y="646.54" width="17.90" height="10.35" fill="#cccccc"/>
<text x="60.30" y="656.64" font-size="13.1" text-anchor="end" fill="#1a1a1a">4p</text>
<rect x="466.10" y="646.94" width="31.50" height="9.60" fill="#0092d0"/>
<rect x="64.95" y="658.68" width="17.90" height="10.35" fill="#cccccc"/>
<rect x="84.12" y="658.38" width="18.50" height="10.95" fill="#92c846"/>
<rect x="103.89" y="658.68" width="17.90" height="10.35" fill="#cccccc"/>
<rect x="123.06" y="658.38" width="18.50" height="10.95" fill="#0092d0"/>
<rect x="142.83" y="658.68" width="17.90" height="10.35" fill="#cccccc"/>
<rect x="162.30" y="658.68" width="17.90" height="10.35" fill="#cccccc"/>
<rect x="181.77" y="658.68" width="17.90" height="10.35" fill="#cccccc"/>
<rect x="201.24" y="658.68" width="17.90" height="10.35" fill="#cccccc"/>
<rect x="223.45" y="658.68" width="17.90" height="10.35" fill="#cccccc"/>
<rect x="242.92" y="658.68" width="17.90" height="10.35" fill="#cccccc"/>
<rect x="262.39" y="658.68" width="17.90" height="10.35" fill="#cccccc"/>
<rect x="281.86" y="658.68" width="17.90" height="10.35" fill="#cccccc"/>
<rect x="301.33" y="658.68" width="17.90" height="10.35" fill="#cccccc"/>
<rect x="320.50" y="658.38" width="18.50" height="10.95" fill="#0092d0"/>
<rect x="340.27" y="658.68" width="17.90" height="10.35" fill="#cccccc"/>
<rect x="359.74" y="658.68" width="17.90" height="10.35" fill="#cccccc"/>
<rect x="379.21" y="658.68" width="17.90" height="10.35" fill="#cccccc"/>
<rect x="398.68" y="658.68" width="17.90" height="10.35" fill="#cccccc"/>
<rect x="419.85" y="658.68" width="17.90" height="10.35" fill="#cccccc"/>
<rect x="439.32" y="658.68" width="17.90" height="10.35" fill="#cccccc"/>
<text x="60.30" y="668.78" font-size="13.1" text-anchor="end" fill="#1a1a1a">4q</text>
<rect x="466.10" y="659.08" width="31.50" height="9.60" fill="#0092d0"/>
<rect x="497.60" y="659.08" width="15.75" height="9.60" fill="#92c846"/>
<rect x="64.95" y="670.82" width="17.90" height="10.35" fill="#cccccc"/>
<rect x="84.42" y="670.82" width="17.90" height="10.35" fill="#cccccc"/>
<rect x="103.89" y="670.82" width="17.90" height="10.35" fill="#cccccc"/>
<rect x="123.36" y="670.82" width="17.90" height="10.35" fill="#cccccc"/>
<rect x="142.83" y="670.82" width="17.90" height="10.35" fill="#cccccc"/>
<rect x="162.30" y="670.82" width="17.90" height="10.35" fill="#cccccc"/>
<rect x="181.77" y="670.82" width="17.90" height="10.35" fill="#cccccc"/>
<rect x="201.24" y="670.82" width="17.90" height="10.35" fill="#cccccc"/>
<rect x="223.45" y="670.82" width="17.90" height="10.35" fill="#cccccc"/>
<rect x="242.92" y="670.82" width="17.90" height="10.35" fill="#cccccc"/>
<rect x="262.39" y="670.82" width="17.90" height="10.35" fill="#cccccc"/>
<rect x="281.86" y="670.82" width="17.90" height="10.35" fill="#cccccc"/>
<rect x="301.33" y="670.82" width="17.90" height="10.35" fill="#cccccc"/>
<rect x="320.80" y="670.82" width="17.90" height="10.35" fill="#cccccc"/>
<rect x="340.27" y="670.82" width="17.90" height="10.35" fill="#cccccc"/>
<rect x="359.74" y="670.82" width="17.90" height="10.35" fill="#cccccc"/>
<rect x="379.21" y="670.82" width="17.90" height="10.35" fill="#cccccc"/>
<rect x="398.68" y="670.82" width="17.90" height="10.35" fill="#cccccc"/>
<rect x="419.85" y="670.82" width="17.90" height="10.35" fill="#cccccc"/>
<rect x="439.32" y="670.82" width="17.90" height="10.35" fill="#cccccc"/>
<text x="60.30" y="680.92" font-size="13.1" text-anchor="end" fill="#1a1a1a">5p</text>
<rect x="64.95" y="682.96" width="17.90" height="10.35" fill="#cccccc"/>
<rect x="84.12" y="682.66" width="18.50" height="10.95" fill="#0092d0"/>
<rect x="103.89" y="682.96" width="17.90" height="10.35" fill="#cccccc"/>
<rect x="123.36" y="682.96" width="17.90" height="10.35" fill="#cccccc"/>
<rect x="142.83" y="682.96" width="17.90" height="10.35" fill="#cccccc"/>
<rect x="162.30" y="682.96" width="17.90" height="10.35" fill="#cccccc"/>
<rect x="181.77" y="682.96" width="17.90" height="10.35" fill="#cccccc"/>
<rect x="201.24" y="682.96" width="17.90" height="10.35" fill="#cccccc"/>
<rect x="223.45" y="682.96" width="17.90" height="10.35" fill="#cccccc"/>
<rect x="242.92" y="682.96" width="17.90" height="10.35" fill="#cccccc"/>
<rect x="262.39" y="682.96" width="17.90" height="10.35" fill="#cccccc"/>
<rect x="281.86" y="682.96" width="17.90" height="10.35" fill="#cccccc"/>
<rect x="301.33" y="682.96" width="17.90" height="10.35" fill="#cccccc"/>
<rect x="320.80" y="682.96" width="17.90" height="10.35" fill="#cccccc"/>
<rect x="340.27" y="682.96" width="17.90" height="10.35" fill="#cccccc"/>
<rect x="359.44" y="682.66" width="18.50" height="10.95" fill="#0092d0"/>
<rect x="379.21" y="682.96" width="17.90" height="10.35" fill="#cccccc"/>
<rect x="398.68" y="682.96" width="17.90" height="10.35" fill="#cccccc"/>
<rect x="419.85" y="682.96" width="17.90" height="10.35" fill="#cccccc"/>
<rect x="439.32" y="682.96" width="17.90" height="10.35" fill="#cccccc"/>
<text x="60.30" y="693.06" font-size="13.1" text-anchor="end" fill="#1a1a1a">5q</text>
<rect x="466.10" y="683.36" width="31.50" height="9.60" fill="#0092d0"/>
<rect x="64.95" y="695.10" width="17.90" height="10.35" fill="#cccccc"/>
<rect x="84.42" y="695.10" width="17.90" height="10.35" fill="#cccccc"/>
<rect x="103.89" y="695.10" width="17.90" height="10.35" fill="#cccccc"/>
<rect x="123.36" y="695.10" width="17.90" height="10.35" fill="#cccccc"/>
<rect x="142.53" y="694.80" width="18.50" height="10.95" fill="#0092d0"/>
<rect x="162.30" y="695.10" width="17.90" height="10.35" fill="#cccccc"/>
<rect x="181.77" y="695.10" width="17.90" height="10.35" fill="#cccccc"/>
<rect x="201.24" y="695.10" width="17.90" height="10.35" fill="#cccccc"/>
<rect x="223.45" y="695.10" width="17.90" height="10.35" fill="#cccccc"/>
<rect x="242.92" y="695.10" width="17.90" height="10.35" fill="#cccccc"/>
<rect x="262.39" y="695.10" width="17.90" height="10.35" fill="#cccccc"/>
<rect x="281.86" y="695.10" width="17.90" height="10.35" fill="#cccccc"/>
<rect x="301.33" y="695.10" width="17.90" height="10.35" fill="#cccccc"/>
<rect x="320.50" y="694.80" width="18.50" height="10.95" fill="#0092d0"/>
<rect x="340.27" y="695.10" width="17.90" height="10.35" fill="#cccccc"/>
<rect x="359.74" y="695.10" width="17.90" height="10.35" fill="#cccccc"/>
<rect x="379.21" y="695.10" width="17.90" height="10.35" fill="#cccccc"/>
<rect x="398.68" y="695.10" width="17.90" height="10.35" fill="#cccccc"/>
<rect x="419.85" y="695.10" width="17.90" height="10.35" fill="#cccccc"/>
<rect x="439.32" y="695.10" width="17.90" height="10.35" fill="#cccccc"/>
<text x="60.30" y="705.20" font-size="13.1" text-anchor="end" fill="#1a1a1a">6p</text>
<rect x="466.10" y="695.50" width="31.50" height="9.60" fill="#0092d0"/>
<rect x="64.65" y="706.94" width="18.50" height="10.95" fill="#0092d0"/>
<rect x="84.42" y="707.24" width="17.90" height="10.35" fill="#cccccc"/>
<rect x="103.89" y="707.24" width="17.90" height="10.35" fill="#cccccc"/>
<rect x="123.06" y="706.94" width="18.50" height="10.95" fill="#0092d0"/>
<rect x="142.83" y="707.24" width="17.90" height="10.35" fill="#cccccc"/>
<rect x="162.00" y="706.94" width="18.50" height="10.95" fill="#0092d0"/>
<rect x="181.77" y="707.24" width="17.90" height="10.35" fill="#cccccc"/>
<rect x="200.94" y="706.94" width="18.50" height="10.95" fill="#92c846"/>
<rect x="223.15" y="706.94" width="18.50" height="10.95" fill="#0092d0"/>
<rect x="242.92" y="707.24" width="17.90" height="10.35" fill="#cccccc"/>
<rect x="262.09" y="706.94" width="18.50" height="10.95" fill="#0092d0"/>
<rect x="281.86" y="707.24" width="17.90" height="10.35" fill="#cccccc"/>
<rect x="301.33" y="707.24" width="17.90" height="10.35" fill="#cccccc"/>
<rect x="320.50" y="706.94" width="18.50" height="10.95" fill="#0092d0"/>
<rect x="340.27" y="707.24" width="17.90" height="10.35" fill="#cccccc"/>
<rect x="359.74" y="707.24" width="17.90" height="10.35" fill="#cccccc"/>
<rect x="379.21" y="707.24" width="17.90" height="10.35" fill="#cccccc"/>
<rect x="398.68" y="707.24" width="17.90" height="10.35" fill="#cccccc"/>
<rect x="419.55" y="706.94" width="18.50" height="10.95" fill="#0092d0"/>
<rect x="439.32" y="707.24" width="17.90" height="10.35" fill="#cccccc"/>
<text x="60.30" y="717.34" font-size="13.1" text-anchor="end" fill="#1a1a1a">6q</text>
<rect x="466.10" y="707.64" width="110.25" height="9.60" fill="#0092d0"/>
<rect x="576.35" y="707.64" width="15.75" height="9.60" fill="#92c846"/>
<rect x="64.95" y="719.38" width="17.90" height="10.35" fill="#cccccc"/>
<rect x="84.12" y="719.08" width="18.50" height="10.95" fill="#92c846"/>
<rect x="103.89" y="719.38" width="17.90" height="10.35" fill="#cccccc"/>
<rect x="123.36" y="719.38" width="17.90" height="10.35" fill="#cccccc"/>
<rect x="142.83" y="719.38" width="17.90" height="10.35" fill="#cccccc"/>
<rect x="162.30" y="719.38" width="17.90" height="10.35" fill="#cccccc"/>
<rect x="181.77" y="719.38" width="17.90" height="10.35" fill="#cccccc"/>
<rect x="201.24" y="719.38" width="17.90" height="10.35" fill="#cccccc"/>
<rect x="223.45" y="719.38" width="17.90" height="10.35" fill="#cccccc"/>
<rect x="242.92" y="719.38" width="17.90" height="10.35" fill="#cccccc"/>
<rect x="262.39" y="719.38" width="17.90" height="10.35" fill="#cccccc"/>
<rect x="281.86" y="719.38" width="17.90" height="10.35" fill="#cccccc"/>
<rect x="301.33" y="719.38" width="17.90" height="10.35" fill="#cccccc"/>
<rect x="320.80" y="719.38" width="17.90" height="10.35" fill="#cccccc"/>
<rect x="340.27" y="719.38" width="17.90" height="10.35" fill="#cccccc"/>
<rect x="359.74" y="719.38" width="17.90" height="10.35" fill="#cccccc"/>
<rect x="379.21" y="719.38" width="17.90" height="10.35" fill="#cccccc"/>
<rect x="398.68" y="719.38" width="17.90" height="10.35" fill="#cccccc"/>
<rect x="419.85" y="719.38" width="17.90" height="10.35" fill="#cccccc"/>
<rect x="439.32" y="719.38" width="17.90" height="10.35" fill="#cccccc"/>
<text x="60.30" y="729.48" font-size="13.1" text-anchor="end" fill="#1a1a1a">7p</text>
<rect x="466.10" y="719.78" width="15.75" height="9.60" fill="#92c846"/>
<rect x="64.95" y="731.52" width="17.90" height="10.35" fill="#cccccc"/>
<rect x="84.12" y="731.22" width="18.50" height="10.95" fill="#0092d0"/>
<rect x="103.89" y="731.52" width="17.90" height="10.35" fill="#cccccc"/>
<rect x="123.36" y="731.52" width="17.90" height="10.35" fill="#cccccc"/>
<rect x="142.83" y="731.52" width="17.90" height="10.35" fill="#cccccc"/>
<rect x="162.30" y="731.52" width="17.90" height="10.35" fill="#cccccc"/>
<rect x="181.77" y="731.52" width="17.90" height="10.35" fill="#cccccc"/>
<rect x="201.24" y="731.52" width="17.90" height="10.35" fill="#cccccc"/>
<rect x="223.45" y="731.52" width="17.90" height="10.35" fill="#cccccc"/>
<rect x="242.92" y="731.52" width="17.90" height="10.35" fill="#cccccc"/>
<rect x="262.09" y="731.22" width="18.50" height="10.95" fill="#92c846"/>
<rect x="281.86" y="731.52" width="17.90" height="10.35" fill="#cccccc"/>
<rect x="301.33" y="731.52" width="17.90" height="10.35" fill="#cccccc"/>
<rect x="320.80" y="731.52" width="17.90" height="10.35" fill="#cccccc"/>
<rect x="340.27" y="731.52" width="17.90" height="10.35" fill="#cccccc"/>
<rect x="359.74" y="731.52" width="17.90" height="10.35" fill="#cccccc"/>
<rect x="379.21" y="731.52" width="17.90" height="10.35" fill="#cccccc"/>
<rect x="398.68" y="731.52" width="17.90" height="10.35" fill="#cccccc"/>
<rect x="419.85" y="731.52" width="17.90" height="10.35" fill="#cccccc"/>
<rect x="439.32" y="731.52" width="17.90" height="10.35" fill="#cccccc"/>
<text x="60.30" y="741.62" font-size="13.1" text-anchor="end" fill="#1a1a1a">7q</text>
<rect x="466.10" y="731.92" width="15.75" height="9.60" fill="#0092d0"/>
<rect x="481.85" y="731.92" width="15.75" height="9.60" fill="#92c846"/>
<rect x="64.65" y="743.36" width="18.50" height="10.95" fill="#0092d0"/>
<rect x="84.42" y="743.66" width="17.90" height="10.35" fill="#cccccc"/>
<rect x="103.89" y="743.66" width="17.90" height="10.35" fill="#cccccc"/>
<rect x="123.36" y="743.66" width="17.90" height="10.35" fill="#cccccc"/>
<rect x="142.83" y="743.66" width="17.90" height="10.35" fill="#cccccc"/>
<rect x="162.00" y="743.36" width="18.50" height="10.95" fill="#0092d0"/>
<rect x="181.77" y="743.66" width="17.90" height="10.35" fill="#cccccc"/>
<rect x="200.94" y="743.36" width="18.50" height="10.95" fill="#0092d0"/>
<rect x="223.45" y="743.66" width="17.90" height="10.35" fill="#cccccc"/>
<rect x="242.92" y="743.66" width="17.90" height="10.35" fill="#cccccc"/>
<rect x="262.39" y="743.66" width="17.90" height="10.35" fill="#cccccc"/>
<rect x="281.86" y="743.66" width="17.90" height="10.35" fill="#cccccc"/>
<rect x="301.33" y="743.66" width="17.90" height="10.35" fill="#cccccc"/>
<rect x="320.50" y="743.36" width="18.50" height="10.95" fill="#0092d0"/>
<rect x="340.27" y="743.66" width="17.90" height="10.35" fill="#cccccc"/>
<rect x="359.74" y="743.66" width="17.90" height="10.35" fill="#cccccc"/>
<rect x="379.21" y="743.66" width="17.90" height="10.35" fill="#cccccc"/>
<rect x="398.68" y="743.66" width="17.90" height="10.35" fill="#cccccc"/>
<rect x="419.55" y="743.36" width="18.50" height="10.95" fill="#0092d0"/>
<rect x="439.32" y="743.66" width="17.90" height="10.35" fill="#cccccc"/>
<text x="60.30" y="753.76" font-size="13.1" text-anchor="end" fill="#1a1a1a">8p</text>
<rect x="466.10" y="744.06" width="78.75" height="9.60" fill="#0092d0"/>
<rect x="64.95" y="755.80" width="17.90" height="10.35" fill="#cccccc"/>
<rect x="84.42" y="755.80" width="17.90" height="10.35" fill="#cccccc"/>
<rect x="103.89" y="755.80" width="17.90" height="10.35" fill="#cccccc"/>
<rect x="123.36" y="755.80" width="17.90" height="10.35" fill="#cccccc"/>
<rect x="142.83" y="755.80" width="17.90" height="10.35" fill="#cccccc"/>
<rect x="162.30" y="755.80" width="17.90" height="10.35" fill="#cccccc"/>
<rect x="181.77" y="755.80" width="17.90" height="10.35" fill="#cccccc"/>
<rect x="201.24" y="755.80" width="17.90" height="10.35" fill="#cccccc"/>
<rect x="223.45" y="755.80" width="17.90" height="10.35" fill="#cccccc"/>
<rect x="242.92" y="755.80" width="17.90" height="10.35" fill="#cccccc"/>
<rect x="262.39" y="755.80" width="17.90" height="10.35" fill="#cccccc"/>
<rect x="281.86" y="755.80" width="17.90" height="10.35" fill="#cccccc"/>
<rect x="301.33" y="755.80" width="17.90" height="10.35" fill="#cccccc"/>
<rect x="320.50" y="755.50" width="18.50" height="10.95" fill="#0092d0"/>
<rect x="340.27" y="755.80" width="17.90" height="10.35" fill="#cccccc"/>
<rect x="359.74" y="755.80" width="17.90" height="10.35" fill="#cccccc"/>
<rect x="379.21" y="755.80" width="17.90" height="10.35" fill="#cccccc"/>
<rect x="398.68" y="755.80" width="17.90" height="10.35" fill="#cccccc"/>
<rect x="419.85" y="755.80" width="17.90" height="10.35" fill="#cccccc"/>
<rect x="439.32" y="755.80" width="17.90" height="10.35" fill="#cccccc"/>
<text x="60.30" y="765.90" font-size="13.1" text-anchor="end" fill="#1a1a1a">8q</text>
<rect x="466.10" y="756.20" width="15.75" height="9.60" fill="#0092d0"/>
<rect x="64.95" y="767.94" width="17.90" height="10.35" fill="#cccccc"/>
<rect x="84.12" y="767.64" width="18.50" height="10.95" fill="#92c846"/>
<rect x="103.59" y="767.64" width="18.50" height="10.95" fill="#92c846"/>
<rect x="123.36" y="767.94" width="17.90" height="10.35" fill="#cccccc"/>
<rect x="142.83" y="767.94" width="17.90" height="10.35" fill="#cccccc"/>
<rect x="162.00" y="767.64" width="18.50" height="10.95" fill="#0092d0"/>
<rect x="181.77" y="767.94" width="17.90" height="10.35" fill="#cccccc"/>
<rect x="201.24" y="767.94" width="17.90" height="10.35" fill="#cccccc"/>
<rect x="223.45" y="767.94" width="17.90" height="10.35" fill="#cccccc"/>
<rect x="242.92" y="767.94" width="17.90" height="10.35" fill="#cccccc"/>
<rect x="262.09" y="767.64" width="18.50" height="10.95" fill="#0092d0"/>
<rect x="281.86" y="767.94" width="17.90" height="10.35" fill="#cccccc"/>
<rect x="301.33" y="767.94" width="17.90" height="10.35" fill="#cccccc"/>
<rect x="320.50" y="767.64" width="18.50" height="10.95" fill="#0092d0"/>
<rect x="340.27" y="767.94" width="17.90" height="10.35" fill="#cccccc"/>
<rect x="359.74" y="767.94" width="17.90" height="10.35" fill="#cccccc"/>
<rect x="379.21" y="767.94" width="17.90" height="10.35" fill="#cccccc"/>
<rect x="398.68" y="767.94" width="17.90" height="10.35" fill="#cccccc"/>
<rect x="419.85" y="767.94" width="17.90" height="10.35" fill="#cccccc"/>
<rect x="439.32" y="767.94" width="17.90" height="10.35" fill="#cccccc"/>
<text x="60.30" y="778.04" font-size="13.1" text-anchor="end" fill="#1a1a1a">9p</text>
<rect x="466.10" y="768.34" width="47.25" height="9.60" fill="#0092d0"/>
<rect x="513.35" y="768.34" width="31.50" height="9.60" fill="#92c846"/>
<rect x="64.95" y="780.08" width="17.90" height="10.35" fill="#cccccc"/>
<rect x="84.12" y="779.78" width="18.50" height="10.95" fill="#92c846"/>
<rect x="103.89" y="780.08" width="17.90" height="10.35" fill="#cccccc"/>
<rect x="123.36" y="780.08" width="17.90" height="10.35" fill="#cccccc"/>
<rect x="142.83" y="780.08" width="17.90" height="10.35" fill="#cccccc"/>
<rect x="162.30" y="780.08" width="17.90" height="10.35" fill="#cccccc"/>
<rect x="181.77" y="780.08" width="17.90" height="10.35" fill="#cccccc"/>
<rect x="201.24" y="780.08" width="17.90" height="10.35" fill="#cccccc"/>
<rect x="223.45" y="780.08" width="17.90" height="10.35" fill="#cccccc"/>
<rect x="242.92" y="780.08" width="17.90" height="10.35" fill="#cccccc"/>
<rect x="262.39" y="780.08" width="17.90" height="10.35" fill="#cccccc"/>
<rect x="281.86" y="780.08" width="17.90" height="10.35" fill="#cccccc"/>
<rect x="301.33" y="780.08" width="17.90" height="10.35" fill="#cccccc"/>
<rect x="320.80" y="780.08" width="17.90" height="10.35" fill="#cccccc"/>
<rect x="340.27" y="780.08" width="17.90" height="10.35" fill="#cccccc"/>
<rect x="359.74" y="780.08" width="17.90" height="10.35" fill="#cccccc"/>
<rect x="379.21" y="780.08" width="17.90" height="10.35" fill="#cccccc"/>
<rect x="398.68" y="780.08" width="17.90" height="10.35" fill="#cccccc"/>
<rect x="419.85" y="780.08" width="17.90" height="10.35" fill="#cccccc"/>
<rect x="439.32" y="780.08" width="17.90" height="10.35" fill="#cccccc"/>
<text x="60.30" y="790.18" font-size="13.1" text-anchor="end" fill="#1a1a1a">9q</text>
<rect x="466.10" y="780.48" width="15.75" height="9.60" fill="#92c846"/>
<rect x="64.95" y="792.22" width="17.90" height="10.35" fill="#cccccc"/>
<rect x="84.12" y="791.92" width="18.50" height="10.95" fill="#92c846"/>
<rect x="103.89" y="792.22" width="17.90" height="10.35" fill="#cccccc"/>
<rect x="123.06" y="791.92" width="18.50" height="10.95" fill="#0092d0"/>
<rect x="142.83" y="792.22" width="17.90" height="10.35" fill="#cccccc"/>
<rect x="162.30" y="792.22" width="17.90" height="10.35" fill="#cccccc"/>
<rect x="181.77" y="792.22" width="17.90" height="10.35" fill="#cccccc"/>
<rect x="201.24" y="792.22" width="17.90" height="10.35" fill="#cccccc"/>
<rect x="223.45" y="792.22" width="17.90" height="10.35" fill="#cccccc"/>
<rect x="242.92" y="792.22" width="17.90" height="10.35" fill="#cccccc"/>
<rect x="262.39" y="792.22" width="17.90" height="10.35" fill="#cccccc"/>
<rect x="281.86" y="792.22" width="17.90" height="10.35" fill="#cccccc"/>
<rect x="301.33" y="792.22" width="17.90" height="10.35" fill="#cccccc"/>
<rect x="320.80" y="792.22" width="17.90" height="10.35" fill="#cccccc"/>
<rect x="340.27" y="792.22" width="17.90" height="10.35" fill="#cccccc"/>
<rect x="359.74" y="792.22" width="17.90" height="10.35" fill="#cccccc"/>
<rect x="379.21" y="792.22" width="17.90" height="10.35" fill="#cccccc"/>
<rect x="398.68" y="792.22" width="17.90" height="10.35" fill="#cccccc"/>
<rect x="419.85" y="792.22" width="17.90" height="10.35" fill="#cccccc"/>
<rect x="439.32" y="792.22" width="17.90" height="10.35" fill="#cccccc"/>
<text x="60.30" y="802.32" font-size="13.1" text-anchor="end" fill="#1a1a1a">10p</text>
<rect x="466.10" y="792.62" width="15.75" height="9.60" fill="#0092d0"/>
<rect x="481.85" y="792.62" width="15.75" height="9.60" fill="#92c846"/>
<rect x="64.95" y="804.36" width="17.90" height="10.35" fill="#cccccc"/>
<rect x="84.12" y="804.06" width="18.50" height="10.95" fill="#92c846"/>
<rect x="103.59" y="804.06" width="18.50" height="10.95" fill="#0092d0"/>
<rect x="123.36" y="804.36" width="17.90" height="10.35" fill="#cccccc"/>
<rect x="142.83" y="804.36" width="17.90" height="10.35" fill="#cccccc"/>
<rect x="162.30" y="804.36" width="17.90" height="10.35" fill="#cccccc"/>
<rect x="181.77" y="804.36" width="17.90" height="10.35" fill="#cccccc"/>
<rect x="201.24" y="804.36" width="17.90" height="10.35" fill="#cccccc"/>
<rect x="223.45" y="804.36" width="17.90" height="10.35" fill="#cccccc"/>
<rect x="242.92" y="804.36" width="17.90" height="10.35" fill="#cccccc"/>
<rect x="262.39" y="804.36" width="17.90" height="10.35" fill="#cccccc"/>
<rect x="281.86" y="804.36" width="17.90" height="10.35" fill="#cccccc"/>
<rect x="301.33" y="804.36" width="17.90" height="10.35" fill="#cccccc"/>
<rect x="320.80" y="804.36" width="17.90" height="10.35" fill="#cccccc"/>
<rect x="340.27" y="804.36" width="17.90" height="10.35" fill="#cccccc"/>
<rect x="359.74" y="804.36" width="17.90" height="10.35" fill="#cccccc"/>
<rect x="379.21" y="804.36" width="17.90" height="10.35" fill="#cccccc"/>
<rect x="398.68" y="804.36" width="17.90" height="10.35" fill="#cccccc"/>
<rect x="419.85" y="804.36" width="17.90" height="10.35" fill="#cccccc"/>
<rect x="439.32" y="804.36" width="17.90" height="10.35" fill="#cccccc"/>
<text x="60.30" y="814.46" font-size="13.1" text-anchor="end" fill="#1a1a1a">10q</text>
<rect x="466.10" y="804.76" width="15.75" height="9.60" fill="#0092d0"/>
<rect x="481.85" y="804.76" width="15.75" height="9.60" fill="#92c846"/>
<rect x="64.95" y="816.50" width="17.90" height="10.35" fill="#cccccc"/>
<rect x="84.42" y="816.50" width="17.90" height="10.35" fill="#cccccc"/>
<rect x="103.89" y="816.50" width="17.90" height="10.35" fill="#cccccc"/>
<rect x="123.36" y="816.50" width="17.90" height="10.35" fill="#cccccc"/>
<rect x="142.83" y="816.50" width="17.90" height="10.35" fill="#cccccc"/>
<rect x="162.30" y="816.50" width="17.90" height="10.35" fill="#cccccc"/>
<rect x="181.77" y="816.50" width="17.90" height="10.35" fill="#cccccc"/>
<rect x="201.24" y="816.50" width="17.90" height="10.35" fill="#cccccc"/>
<rect x="223.45" y="816.50" width="17.90" height="10.35" fill="#cccccc"/>
<rect x="242.92" y="816.50" width="17.90" height="10.35" fill="#cccccc"/>
<rect x="262.39" y="816.50" width="17.90" height="10.35" fill="#cccccc"/>
<rect x="281.86" y="816.50" width="17.90" height="10.35" fill="#cccccc"/>
<rect x="301.33" y="816.50" width="17.90" height="10.35" fill="#cccccc"/>
<rect x="320.80" y="816.50" width="17.90" height="10.35" fill="#cccccc"/>
<rect x="340.27" y="816.50" width="17.90" height="10.35" fill="#cccccc"/>
<rect x="359.74" y="816.50" width="17.90" height="10.35" fill="#cccccc"/>
<rect x="379.21" y="816.50" width="17.90" height="10.35" fill="#cccccc"/>
<rect x="398.68" y="816.50" width="17.90" height="10.35" fill="#cccccc"/>
<rect x="419.85" y="816.50" width="17.90" height="10.35" fill="#cccccc"/>
<rect x="439.32" y="816.50" width="17.90" height="10.35" fill="#cccccc"/>
<text x="60.30" y="826.60" font-size="13.1" text-anchor="end" fill="#1a1a1a">11p</text>
<rect x="64.95" y="828.64" width="17.90" height="10.35" fill="#cccccc"/>
<rect x="84.42" y="828.64" width="17.90" height="10.35" fill="#cccccc"/>
<rect x="103.59" y="828.34" width="18.50" height="10.95" fill="#0092d0"/>
<rect x="123.36" y="828.64" width="17.90" height="10.35" fill="#cccccc"/>
<rect x="142.53" y="828.34" width="18.50" height="10.95" fill="#0092d0"/>
<rect x="162.30" y="828.64" width="17.90" height="10.35" fill="#cccccc"/>
<rect x="181.77" y="828.64" width="17.90" height="10.35" fill="#cccccc"/>
<rect x="201.24" y="828.64" width="17.90" height="10.35" fill="#cccccc"/>
<rect x="223.45" y="828.64" width="17.90" height="10.35" fill="#cccccc"/>
<rect x="242.92" y="828.64" width="17.90" height="10.35" fill="#cccccc"/>
<rect x="262.39" y="828.64" width="17.90" height="10.35" fill="#cccccc"/>
<rect x="281.86" y="828.64" width="17.90" height="10.35" fill="#cccccc"/>
<rect x="301.33" y="828.64" width="17.90" height="10.35" fill="#cccccc"/>
<rect x="320.80" y="828.64" width="17.90" height="10.35" fill="#cccccc"/>
<rect x="340.27" y="828.64" width="17.90" height="10.35" fill="#cccccc"/>
<rect x="359.44" y="828.34" width="18.50" height="10.95" fill="#0092d0"/>
<rect x="379.21" y="828.64" width="17.90" height="10.35" fill="#cccccc"/>
<rect x="398.68" y="828.64" width="17.90" height="10.35" fill="#cccccc"/>
<rect x="419.85" y="828.64" width="17.90" height="10.35" fill="#cccccc"/>
<rect x="439.32" y="828.64" width="17.90" height="10.35" fill="#cccccc"/>
<text x="60.30" y="838.74" font-size="13.1" text-anchor="end" fill="#1a1a1a">11q</text>
<rect x="466.10" y="829.04" width="47.25" height="9.60" fill="#0092d0"/>
<rect x="64.95" y="840.78" width="17.90" height="10.35" fill="#cccccc"/>
<rect x="84.42" y="840.78" width="17.90" height="10.35" fill="#cccccc"/>
<rect x="103.89" y="840.78" width="17.90" height="10.35" fill="#cccccc"/>
<rect x="123.36" y="840.78" width="17.90" height="10.35" fill="#cccccc"/>
<rect x="142.83" y="840.78" width="17.90" height="10.35" fill="#cccccc"/>
<rect x="162.30" y="840.78" width="17.90" height="10.35" fill="#cccccc"/>
<rect x="181.77" y="840.78" width="17.90" height="10.35" fill="#cccccc"/>
<rect x="201.24" y="840.78" width="17.90" height="10.35" fill="#cccccc"/>
<rect x="223.45" y="840.78" width="17.90" height="10.35" fill="#cccccc"/>
<rect x="242.92" y="840.78" width="17.90" height="10.35" fill="#cccccc"/>
<rect x="262.39" y="840.78" width="17.90" height="10.35" fill="#cccccc"/>
<rect x="281.86" y="840.78" width="17.90" height="10.35" fill="#cccccc"/>
<rect x="301.33" y="840.78" width="17.90" height="10.35" fill="#cccccc"/>
<rect x="320.50" y="840.48" width="18.50" height="10.95" fill="#0092d0"/>
<rect x="340.27" y="840.78" width="17.90" height="10.35" fill="#cccccc"/>
<rect x="359.74" y="840.78" width="17.90" height="10.35" fill="#cccccc"/>
<rect x="378.91" y="840.48" width="18.50" height="10.95" fill="#0092d0"/>
<rect x="398.68" y="840.78" width="17.90" height="10.35" fill="#cccccc"/>
<rect x="419.85" y="840.78" width="17.90" height="10.35" fill="#cccccc"/>
<rect x="439.32" y="840.78" width="17.90" height="10.35" fill="#cccccc"/>
<text x="60.30" y="850.88" font-size="13.1" text-anchor="end" fill="#1a1a1a">12p</text>
<rect x="466.10" y="841.18" width="31.50" height="9.60" fill="#0092d0"/>
<rect x="64.95" y="852.92" width="17.90" height="10.35" fill="#cccccc"/>
<rect x="84.42" y="852.92" width="17.90" height="10.35" fill="#cccccc"/>
<rect x="103.89" y="852.92" width="17.90" height="10.35" fill="#cccccc"/>
<rect x="123.36" y="852.92" width="17.90" height="10.35" fill="#cccccc"/>
<rect x="142.83" y="852.92" width="17.90" height="10.35" fill="#cccccc"/>
<rect x="162.30" y="852.92" width="17.90" height="10.35" fill="#cccccc"/>
<rect x="181.77" y="852.92" width="17.90" height="10.35" fill="#cccccc"/>
<rect x="201.24" y="852.92" width="17.90" height="10.35" fill="#cccccc"/>
<rect x="223.45" y="852.92" width="17.90" height="10.35" fill="#cccccc"/>
<rect x="242.92" y="852.92" width="17.90" height="10.35" fill="#cccccc"/>
<rect x="262.39" y="852.92" width="17.90" height="10.35" fill="#cccccc"/>
<rect x="281.86" y="852.92" width="17.90" height="10.35" fill="#cccccc"/>
<rect x="301.33" y="852.92" width="17.90" height="10.35" fill="#cccccc"/>
<rect x="320.80" y="852.92" width="17.90" height="10.35" fill="#cccccc"/>
<rect x="340.27" y="852.92" width="17.90" height="10.35" fill="#cccccc"/>
<rect x="359.74" y="852.92" width="17.90" height="10.35" fill="#cccccc"/>
<rect x="379.21" y="852.92" width="17.90" height="10.35" fill="#cccccc"/>
<rect x="398.68" y="852.92" width="17.90" height="10.35" fill="#cccccc"/>
<rect x="419.85" y="852.92" width="17.90" height="10.35" fill="#cccccc"/>
<rect x="439.32" y="852.92" width="17.90" height="10.35" fill="#cccccc"/>
<text x="60.30" y="863.02" font-size="13.1" text-anchor="end" fill="#1a1a1a">12q</text>
<rect x="64.95" y="865.06" width="17.90" height="10.35" fill="#cccccc"/>
<rect x="84.12" y="864.76" width="18.50" height="10.95" fill="#0092d0"/>
<rect x="103.89" y="865.06" width="17.90" height="10.35" fill="#cccccc"/>
<rect x="123.36" y="865.06" width="17.90" height="10.35" fill="#cccccc"/>
<rect x="142.83" y="865.06" width="17.90" height="10.35" fill="#cccccc"/>
<rect x="162.30" y="865.06" width="17.90" height="10.35" fill="#cccccc"/>
<rect x="181.77" y="865.06" width="17.90" height="10.35" fill="#cccccc"/>
<rect x="200.94" y="864.76" width="18.50" height="10.95" fill="#92c846"/>
<rect x="223.45" y="865.06" width="17.90" height="10.35" fill="#cccccc"/>
<rect x="242.92" y="865.06" width="17.90" height="10.35" fill="#cccccc"/>
<rect x="262.39" y="865.06" width="17.90" height="10.35" fill="#cccccc"/>
<rect x="281.86" y="865.06" width="17.90" height="10.35" fill="#cccccc"/>
<rect x="301.33" y="865.06" width="17.90" height="10.35" fill="#cccccc"/>
<rect x="320.80" y="865.06" width="17.90" height="10.35" fill="#cccccc"/>
<rect x="340.27" y="865.06" width="17.90" height="10.35" fill="#cccccc"/>
<rect x="359.74" y="865.06" width="17.90" height="10.35" fill="#cccccc"/>
<rect x="379.21" y="865.06" width="17.90" height="10.35" fill="#cccccc"/>
<rect x="398.38" y="864.76" width="18.50" height="10.95" fill="#0092d0"/>
<rect x="419.85" y="865.06" width="17.90" height="10.35" fill="#cccccc"/>
<rect x="439.32" y="865.06" width="17.90" height="10.35" fill="#cccccc"/>
<text x="60.30" y="875.16" font-size="13.1" text-anchor="end" fill="#1a1a1a">13q</text>
<rect x="466.10" y="865.46" width="31.50" height="9.60" fill="#0092d0"/>
<rect x="497.60" y="865.46" width="15.75" height="9.60" fill="#92c846"/>
<rect x="64.95" y="877.20" width="17.90" height="10.35" fill="#cccccc"/>
<rect x="84.12" y="876.90" width="18.50" height="10.95" fill="#92c846"/>
<rect x="103.59" y="876.90" width="18.50" height="10.95" fill="#0092d0"/>
<rect x="123.06" y="876.90" width="18.50" height="10.95" fill="#0092d0"/>
<rect x="142.83" y="877.20" width="17.90" height="10.35" fill="#cccccc"/>
<rect x="162.30" y="877.20" width="17.90" height="10.35" fill="#cccccc"/>
<rect x="181.77" y="877.20" width="17.90" height="10.35" fill="#cccccc"/>
<rect x="201.24" y="877.20" width="17.90" height="10.35" fill="#cccccc"/>
<rect x="223.45" y="877.20" width="17.90" height="10.35" fill="#cccccc"/>
<rect x="242.92" y="877.20" width="17.90" height="10.35" fill="#cccccc"/>
<rect x="262.39" y="877.20" width="17.90" height="10.35" fill="#cccccc"/>
<rect x="281.86" y="877.20" width="17.90" height="10.35" fill="#cccccc"/>
<rect x="301.33" y="877.20" width="17.90" height="10.35" fill="#cccccc"/>
<rect x="320.80" y="877.20" width="17.90" height="10.35" fill="#cccccc"/>
<rect x="340.27" y="877.20" width="17.90" height="10.35" fill="#cccccc"/>
<rect x="359.74" y="877.20" width="17.90" height="10.35" fill="#cccccc"/>
<rect x="379.21" y="877.20" width="17.90" height="10.35" fill="#cccccc"/>
<rect x="398.68" y="877.20" width="17.90" height="10.35" fill="#cccccc"/>
<rect x="419.85" y="877.20" width="17.90" height="10.35" fill="#cccccc"/>
<rect x="439.32" y="877.20" width="17.90" height="10.35" fill="#cccccc"/>
<text x="60.30" y="887.30" font-size="13.1" text-anchor="end" fill="#1a1a1a">14q</text>
<rect x="466.10" y="877.60" width="31.50" height="9.60" fill="#0092d0"/>
<rect x="497.60" y="877.60" width="15.75" height="9.60" fill="#92c846"/>
<rect x="64.95" y="889.34" width="17.90" height="10.35" fill="#cccccc"/>
<rect x="84.12" y="889.04" width="18.50" height="10.95" fill="#92c846"/>
<rect x="103.89" y="889.34" width="17.90" height="10.35" fill="#cccccc"/>
<rect x="123.36" y="889.34" width="17.90" height="10.35" fill="#cccccc"/>
<rect x="142.83" y="889.34" width="17.90" height="10.35" fill="#cccccc"/>
<rect x="162.30" y="889.34" width="17.90" height="10.35" fill="#cccccc"/>
<rect x="181.77" y="889.34" width="17.90" height="10.35" fill="#cccccc"/>
<rect x="201.24" y="889.34" width="17.90" height="10.35" fill="#cccccc"/>
<rect x="223.45" y="889.34" width="17.90" height="10.35" fill="#cccccc"/>
<rect x="242.92" y="889.34" width="17.90" height="10.35" fill="#cccccc"/>
<rect x="262.39" y="889.34" width="17.90" height="10.35" fill="#cccccc"/>
<rect x="281.86" y="889.34" width="17.90" height="10.35" fill="#cccccc"/>
<rect x="301.33" y="889.34" width="17.90" height="10.35" fill="#cccccc"/>
<rect x="320.80" y="889.34" width="17.90" height="10.35" fill="#cccccc"/>
<rect x="340.27" y="889.34" width="17.90" height="10.35" fill="#cccccc"/>
<rect x="359.74" y="889.34" width="17.90" height="10.35" fill="#cccccc"/>
<rect x="379.21" y="889.34" width="17.90" height="10.35" fill="#cccccc"/>
<rect x="398.68" y="889.34" width="17.90" height="10.35" fill="#cccccc"/>
<rect x="419.85" y="889.34" width="17.90" height="10.35" fill="#cccccc"/>
<rect x="439.32" y="889.34" width="17.90" height="10.35" fill="#cccccc"/>
<text x="60.30" y="899.44" font-size="13.1" text-anchor="end" fill="#1a1a1a">15q</text>
<rect x="466.10" y="889.74" width="15.75" height="9.60" fill="#92c846"/>
<rect x="64.95" y="901.48" width="17.90" height="10.35" fill="#cccccc"/>
<rect x="84.12" y="901.18" width="18.50" height="10.95" fill="#92c846"/>
<rect x="103.89" y="901.48" width="17.90" height="10.35" fill="#cccccc"/>
<rect x="123.36" y="901.48" width="17.90" height="10.35" fill="#cccccc"/>
<rect x="142.83" y="901.48" width="17.90" height="10.35" fill="#cccccc"/>
<rect x="162.30" y="901.48" width="17.90" height="10.35" fill="#cccccc"/>
<rect x="181.77" y="901.48" width="17.90" height="10.35" fill="#cccccc"/>
<rect x="201.24" y="901.48" width="17.90" height="10.35" fill="#cccccc"/>
<rect x="223.45" y="901.48" width="17.90" height="10.35" fill="#cccccc"/>
<rect x="242.92" y="901.48" width="17.90" height="10.35" fill="#cccccc"/>
<rect x="262.39" y="901.48" width="17.90" height="10.35" fill="#cccccc"/>
<rect x="281.86" y="901.48" width="17.90" height="10.35" fill="#cccccc"/>
<rect x="301.33" y="901.48" width="17.90" height="10.35" fill="#cccccc"/>
<rect x="320.80" y="901.48" width="17.90" height="10.35" fill="#cccccc"/>
<rect x="340.27" y="901.48" width="17.90" height="10.35" fill="#cccccc"/>
<rect x="359.74" y="901.48" width="17.90" height="10.35" fill="#cccccc"/>
<rect x="379.21" y="901.48" width="17.90" height="10.35" fill="#cccccc"/>
<rect x="398.68" y="901.48" width="17.90" height="10.35" fill="#cccccc"/>
<rect x="419.85" y="901.48" width="17.90" height="10.35" fill="#cccccc"/>
<rect x="439.32" y="901.48" width="17.90" height="10.35" fill="#cccccc"/>
<text x="60.30" y="911.58" font-size="13.1" text-anchor="end" fill="#1a1a1a">16p</text>
<rect x="466.10" y="901.88" width="15.75" height="9.60" fill="#92c846"/>
<rect x="64.95" y="913.62" width="17.90" height="10.35" fill="#cccccc"/>
<rect x="84.12" y="913.32" width="18.50" height="10.95" fill="#92c846"/>
<rect x="103.89" y="913.62" width="17.90" height="10.35" fill="#cccccc"/>
<rect x="123.36" y="913.62" width="17.90" height="10.35" fill="#cccccc"/>
<rect x="142.83" y="913.62" width="17.90" height="10.35" fill="#cccccc"/>
<rect x="162.00" y="913.32" width="18.50" height="10.95" fill="#0092d0"/>
<rect x="181.77" y="913.62" width="17.90" height="10.35" fill="#cccccc"/>
<rect x="201.24" y="913.62" width="17.90" height="10.35" fill="#cccccc"/>
<rect x="223.45" y="913.62" width="17.90" height="10.35" fill="#cccccc"/>
<rect x="242.92" y="913.62" width="17.90" height="10.35" fill="#cccccc"/>
<rect x="262.39" y="913.62" width="17.90" height="10.35" fill="#cccccc"/>
<rect x="281.86" y="913.62" width="17.90" height="10.35" fill="#cccccc"/>
<rect x="301.33" y="913.62" width="17.90" height="10.35" fill="#cccccc"/>
<rect x="320.80" y="913.62" width="17.90" height="10.35" fill="#cccccc"/>
<rect x="340.27" y="913.62" width="17.90" height="10.35" fill="#cccccc"/>
<rect x="359.74" y="913.62" width="17.90" height="10.35" fill="#cccccc"/>
<rect x="379.21" y="913.62" width="17.90" height="10.35" fill="#cccccc"/>
<rect x="398.68" y="913.62" width="17.90" height="10.35" fill="#cccccc"/>
<rect x="419.85" y="913.62" width="17.90" height="10.35" fill="#cccccc"/>
<rect x="439.32" y="913.62" width="17.90" height="10.35" fill="#cccccc"/>
<text x="60.30" y="923.72" font-size="13.1" text-anchor="end" fill="#1a1a1a">16q</text>
<rect x="466.10" y="914.02" width="15.75" height="9.60" fill="#0092d0"/>
<rect x="481.85" y="914.02" width="15.75" height="9.60" fill="#92c846"/>
<rect x="64.65" y="925.46" width="18.50" height="10.95" fill="#0092d0"/>
<rect x="84.42" y="925.76" width="17.90" height="10.35" fill="#cccccc"/>
<rect x="103.89" y="925.76" width="17.90" height="10.35" fill="#cccccc"/>
<rect x="123.36" y="925.76" width="17.90" height="10.35" fill="#cccccc"/>
<rect x="142.83" y="925.76" width="17.90" height="10.35" fill="#cccccc"/>
<rect x="162.30" y="925.76" width="17.90" height="10.35" fill="#cccccc"/>
<rect x="181.77" y="925.76" width="17.90" height="10.35" fill="#cccccc"/>
<rect x="200.94" y="925.46" width="18.50" height="10.95" fill="#0092d0"/>
<rect x="223.45" y="925.76" width="17.90" height="10.35" fill="#cccccc"/>
<rect x="242.92" y="925.76" width="17.90" height="10.35" fill="#cccccc"/>
<rect x="262.39" y="925.76" width="17.90" height="10.35" fill="#cccccc"/>
<rect x="281.86" y="925.76" width="17.90" height="10.35" fill="#cccccc"/>
<rect x="301.33" y="925.76" width="17.90" height="10.35" fill="#cccccc"/>
<rect x="320.50" y="925.46" width="18.50" height="10.95" fill="#0092d0"/>
<rect x="340.27" y="925.76" width="17.90" height="10.35" fill="#cccccc"/>
<rect x="359.74" y="925.76" width="17.90" height="10.35" fill="#cccccc"/>
<rect x="379.21" y="925.76" width="17.90" height="10.35" fill="#cccccc"/>
<rect x="398.68" y="925.76" width="17.90" height="10.35" fill="#cccccc"/>
<rect x="419.85" y="925.76" width="17.90" height="10.35" fill="#cccccc"/>
<rect x="439.32" y="925.76" width="17.90" height="10.35" fill="#cccccc"/>
<text x="60.30" y="935.86" font-size="13.1" text-anchor="end" fill="#1a1a1a">17p</text>
<rect x="466.10" y="926.16" width="47.25" height="9.60" fill="#0092d0"/>
<rect x="64.95" y="937.90" width="17.90" height="10.35" fill="#cccccc"/>
<rect x="84.42" y="937.90" width="17.90" height="10.35" fill="#cccccc"/>
<rect x="103.89" y="937.90" width="17.90" height="10.35" fill="#cccccc"/>
<rect x="123.36" y="937.90" width="17.90" height="10.35" fill="#cccccc"/>
<rect x="142.53" y="937.60" width="18.50" height="10.95" fill="#0092d0"/>
<rect x="162.30" y="937.90" width="17.90" height="10.35" fill="#cccccc"/>
<rect x="181.77" y="937.90" width="17.90" height="10.35" fill="#cccccc"/>
<rect x="201.24" y="937.90" width="17.90" height="10.35" fill="#cccccc"/>
<rect x="223.45" y="937.90" width="17.90" height="10.35" fill="#cccccc"/>
<rect x="242.92" y="937.90" width="17.90" height="10.35" fill="#cccccc"/>
<rect x="262.39" y="937.90" width="17.90" height="10.35" fill="#cccccc"/>
<rect x="281.86" y="937.90" width="17.90" height="10.35" fill="#cccccc"/>
<rect x="301.33" y="937.90" width="17.90" height="10.35" fill="#cccccc"/>
<rect x="320.80" y="937.90" width="17.90" height="10.35" fill="#cccccc"/>
<rect x="340.27" y="937.90" width="17.90" height="10.35" fill="#cccccc"/>
<rect x="359.44" y="937.60" width="18.50" height="10.95" fill="#0092d0"/>
<rect x="379.21" y="937.90" width="17.90" height="10.35" fill="#cccccc"/>
<rect x="398.68" y="937.90" width="17.90" height="10.35" fill="#cccccc"/>
<rect x="419.85" y="937.90" width="17.90" height="10.35" fill="#cccccc"/>
<rect x="439.32" y="937.90" width="17.90" height="10.35" fill="#cccccc"/>
<text x="60.30" y="948.00" font-size="13.1" text-anchor="end" fill="#1a1a1a">17q</text>
<rect x="466.10" y="938.30" width="31.50" height="9.60" fill="#0092d0"/>
<rect x="64.95" y="950.04" width="17.90" height="10.35" fill="#cccccc"/>
<rect x="84.12" y="949.74" width="18.50" height="10.95" fill="#92c846"/>
<rect x="103.89" y="950.04" width="17.90" height="10.35" fill="#cccccc"/>
<rect x="123.36" y="950.04" width="17.90" height="10.35" fill="#cccccc"/>
<rect x="142.83" y="950.04" width="17.90" height="10.35" fill="#cccccc"/>
<rect x="162.00" y="949.74" width="18.50" height="10.95" fill="#0092d0"/>
<rect x="181.47" y="949.74" width="18.50" height="10.95" fill="#0092d0"/>
<rect x="201.24" y="950.04" width="17.90" height="10.35" fill="#cccccc"/>
<rect x="223.45" y="950.04" width="17.90" height="10.35" fill="#cccccc"/>
<rect x="242.92" y="950.04" width="17.90" height="10.35" fill="#cccccc"/>
<rect x="262.39" y="950.04" width="17.90" height="10.35" fill="#cccccc"/>
<rect x="281.86" y="950.04" width="17.90" height="10.35" fill="#cccccc"/>
<rect x="301.33" y="950.04" width="17.90" height="10.35" fill="#cccccc"/>
<rect x="320.50" y="949.74" width="18.50" height="10.95" fill="#0092d0"/>
<rect x="340.27" y="950.04" width="17.90" height="10.35" fill="#cccccc"/>
<rect x="359.74" y="950.04" width="17.90" height="10.35" fill="#cccccc"/>
<rect x="379.21" y="950.04" width="17.90" height="10.35" fill="#cccccc"/>
<rect x="398.68" y="950.04" width="17.90" height="10.35" fill="#cccccc"/>
<rect x="419.85" y="950.04" width="17.90" height="10.35" fill="#cccccc"/>
<rect x="439.32" y="950.04" width="17.90" height="10.35" fill="#cccccc"/>
<text x="60.30" y="960.14" font-size="13.1" text-anchor="end" fill="#1a1a1a">18p</text>
<rect x="466.10" y="950.44" width="47.25" height="9.60" fill="#0092d0"/>
<rect x="513.35" y="950.44" width="15.75" height="9.60" fill="#92c846"/>
<rect x="64.95" y="962.18" width="17.90" height="10.35" fill="#cccccc"/>
<rect x="84.42" y="962.18" width="17.90" height="10.35" fill="#cccccc"/>
<rect x="103.89" y="962.18" width="17.90" height="10.35" fill="#cccccc"/>
<rect x="123.36" y="962.18" width="17.90" height="10.35" fill="#cccccc"/>
<rect x="142.83" y="962.18" width="17.90" height="10.35" fill="#cccccc"/>
<rect x="162.00" y="961.88" width="18.50" height="10.95" fill="#0092d0"/>
<rect x="181.77" y="962.18" width="17.90" height="10.35" fill="#cccccc"/>
<rect x="201.24" y="962.18" width="17.90" height="10.35" fill="#cccccc"/>
<rect x="223.45" y="962.18" width="17.90" height="10.35" fill="#cccccc"/>
<rect x="242.92" y="962.18" width="17.90" height="10.35" fill="#cccccc"/>
<rect x="262.39" y="962.18" width="17.90" height="10.35" fill="#cccccc"/>
<rect x="281.86" y="962.18" width="17.90" height="10.35" fill="#cccccc"/>
<rect x="301.33" y="962.18" width="17.90" height="10.35" fill="#cccccc"/>
<rect x="320.80" y="962.18" width="17.90" height="10.35" fill="#cccccc"/>
<rect x="340.27" y="962.18" width="17.90" height="10.35" fill="#cccccc"/>
<rect x="359.74" y="962.18" width="17.90" height="10.35" fill="#cccccc"/>
<rect x="379.21" y="962.18" width="17.90" height="10.35" fill="#cccccc"/>
<rect x="398.68" y="962.18" width="17.90" height="10.35" fill="#cccccc"/>
<rect x="419.85" y="962.18" width="17.90" height="10.35" fill="#cccccc"/>
<rect x="439.32" y="962.18" width="17.90" height="10.35" fill="#cccccc"/>
<text x="60.30" y="972.28" font-size="13.1" text-anchor="end" fill="#1a1a1a">18q</text>
<rect x="466.10" y="962.58" width="15.75" height="9.60" fill="#0092d0"/>
<rect x="64.95" y="974.32" width="17.90" height="10.35" fill="#cccccc"/>
<rect x="84.42" y="974.32" width="17.90" height="10.35" fill="#cccccc"/>
<rect x="103.89" y="974.32" width="17.90" height="10.35" fill="#cccccc"/>
<rect x="123.36" y="974.32" width="17.90" height="10.35" fill="#cccccc"/>
<rect x="142.83" y="974.32" width="17.90" height="10.35" fill="#cccccc"/>
<rect x="162.30" y="974.32" width="17.90" height="10.35" fill="#cccccc"/>
<rect x="181.77" y="974.32" width="17.90" height="10.35" fill="#cccccc"/>
<rect x="201.24" y="974.32" width="17.90" height="10.35" fill="#cccccc"/>
<rect x="223.15" y="974.02" width="18.50" height="10.95" fill="#0092d0"/>
<rect x="242.92" y="974.32" width="17.90" height="10.35" fill="#cccccc"/>
<rect x="262.09" y="974.02" width="18.50" height="10.95" fill="#0092d0"/>
<rect x="281.86" y="974.32" width="17.90" height="10.35" fill="#cccccc"/>
<rect x="301.33" y="974.32" width="17.90" height="10.35" fill="#cccccc"/>
<rect x="320.80" y="974.32" width="17.90" height="10.35" fill="#cccccc"/>
<rect x="340.27" y="974.32" width="17.90" height="10.35" fill="#cccccc"/>
<rect x="359.74" y="974.32" width="17.90" height="10.35" fill="#cccccc"/>
<rect x="379.21" y="974.32" width="17.90" height="10.35" fill="#cccccc"/>
<rect x="398.68" y="974.32" width="17.90" height="10.35" fill="#cccccc"/>
<rect x="419.85" y="974.32" width="17.90" height="10.35" fill="#cccccc"/>
<rect x="439.32" y="974.32" width="17.90" height="10.35" fill="#cccccc"/>
<text x="60.30" y="984.42" font-size="13.1" text-anchor="end" fill="#1a1a1a">19p</text>
<rect x="466.10" y="974.72" width="31.50" height="9.60" fill="#0092d0"/>
<rect x="64.95" y="986.46" width="17.90" height="10.35" fill="#cccccc"/>
<rect x="84.42" y="986.46" width="17.90" height="10.35" fill="#cccccc"/>
<rect x="103.89" y="986.46" width="17.90" height="10.35" fill="#cccccc"/>
<rect x="123.36" y="986.46" width="17.90" height="10.35" fill="#cccccc"/>
<rect x="142.83" y="986.46" width="17.90" height="10.35" fill="#cccccc"/>
<rect x="162.30" y="986.46" width="17.90" height="10.35" fill="#cccccc"/>
<rect x="181.77" y="986.46" width="17.90" height="10.35" fill="#cccccc"/>
<rect x="201.24" y="986.46" width="17.90" height="10.35" fill="#cccccc"/>
<rect x="223.45" y="986.46" width="17.90" height="10.35" fill="#cccccc"/>
<rect x="242.92" y="986.46" width="17.90" height="10.35" fill="#cccccc"/>
<rect x="262.09" y="986.16" width="18.50" height="10.95" fill="#0092d0"/>
<rect x="281.86" y="986.46" width="17.90" height="10.35" fill="#cccccc"/>
<rect x="301.33" y="986.46" width="17.90" height="10.35" fill="#cccccc"/>
<rect x="320.50" y="986.16" width="18.50" height="10.95" fill="#0092d0"/>
<rect x="340.27" y="986.46" width="17.90" height="10.35" fill="#cccccc"/>
<rect x="359.74" y="986.46" width="17.90" height="10.35" fill="#cccccc"/>
<rect x="379.21" y="986.46" width="17.90" height="10.35" fill="#cccccc"/>
<rect x="398.68" y="986.46" width="17.90" height="10.35" fill="#cccccc"/>
<rect x="419.85" y="986.46" width="17.90" height="10.35" fill="#cccccc"/>
<rect x="439.32" y="986.46" width="17.90" height="10.35" fill="#cccccc"/>
<text x="60.30" y="996.56" font-size="13.1" text-anchor="end" fill="#1a1a1a">19q</text>
<rect x="466.10" y="986.86" width="31.50" height="9.60" fill="#0092d0"/>
<rect x="64.65" y="998.30" width="18.50" height="10.95" fill="#0092d0"/>
<rect x="84.42" y="998.60" width="17.90" height="10.35" fill="#cccccc"/>
<rect x="103.59" y="998.30" width="18.50" height="10.95" fill="#0092d0"/>
<rect x="123.36" y="998.60" width="17.90" height="10.35" fill="#cccccc"/>
<rect x="142.83" y="998.60" width="17.90" height="10.35" fill="#cccccc"/>
<rect x="162.30" y="998.60" width="17.90" height="10.35" fill="#cccccc"/>
<rect x="181.77" y="998.60" width="17.90" height="10.35" fill="#cccccc"/>
<rect x="201.24" y="998.60" width="17.90" height="10.35" fill="#cccccc"/>
<rect x="223.45" y="998.60" width="17.90" height="10.35" fill="#cccccc"/>
<rect x="242.92" y="998.60" width="17.90" height="10.35" fill="#cccccc"/>
<rect x="262.39" y="998.60" width="17.90" height="10.35" fill="#cccccc"/>
<rect x="281.86" y="998.60" width="17.90" height="10.35" fill="#cccccc"/>
<rect x="301.03" y="998.30" width="18.50" height="10.95" fill="#0092d0"/>
<rect x="320.50" y="998.30" width="18.50" height="10.95" fill="#0092d0"/>
<rect x="340.27" y="998.60" width="17.90" height="10.35" fill="#cccccc"/>
<rect x="359.74" y="998.60" width="17.90" height="10.35" fill="#cccccc"/>
<rect x="379.21" y="998.60" width="17.90" height="10.35" fill="#cccccc"/>
<rect x="398.68" y="998.60" width="17.90" height="10.35" fill="#cccccc"/>
<rect x="419.85" y="998.60" width="17.90" height="10.35" fill="#cccccc"/>
<rect x="439.32" y="998.60" width="17.90" height="10.35" fill="#cccccc"/>
<text x="60.30" y="1008.70" font-size="13.1" text-anchor="end" fill="#1a1a1a">20p</text>
<rect x="466.10" y="999.00" width="63.00" height="9.60" fill="#0092d0"/>
<rect x="64.95" y="1010.74" width="17.90" height="10.35" fill="#cccccc"/>
<rect x="84.42" y="1010.74" width="17.90" height="10.35" fill="#cccccc"/>
<rect x="103.89" y="1010.74" width="17.90" height="10.35" fill="#cccccc"/>
<rect x="123.36" y="1010.74" width="17.90" height="10.35" fill="#cccccc"/>
<rect x="142.83" y="1010.74" width="17.90" height="10.35" fill="#cccccc"/>
<rect x="162.30" y="1010.74" width="17.90" height="10.35" fill="#cccccc"/>
<rect x="181.77" y="1010.74" width="17.90" height="10.35" fill="#cccccc"/>
<rect x="201.24" y="1010.74" width="17.90" height="10.35" fill="#cccccc"/>
<rect x="223.45" y="1010.74" width="17.90" height="10.35" fill="#cccccc"/>
<rect x="242.92" y="1010.74" width="17.90" height="10.35" fill="#cccccc"/>
<rect x="262.39" y="1010.74" width="17.90" height="10.35" fill="#cccccc"/>
<rect x="281.86" y="1010.74" width="17.90" height="10.35" fill="#cccccc"/>
<rect x="301.33" y="1010.74" width="17.90" height="10.35" fill="#cccccc"/>
<rect x="320.80" y="1010.74" width="17.90" height="10.35" fill="#cccccc"/>
<rect x="340.27" y="1010.74" width="17.90" height="10.35" fill="#cccccc"/>
<rect x="359.74" y="1010.74" width="17.90" height="10.35" fill="#cccccc"/>
<rect x="379.21" y="1010.74" width="17.90" height="10.35" fill="#cccccc"/>
<rect x="398.68" y="1010.74" width="17.90" height="10.35" fill="#cccccc"/>
<rect x="419.85" y="1010.74" width="17.90" height="10.35" fill="#cccccc"/>
<rect x="439.32" y="1010.74" width="17.90" height="10.35" fill="#cccccc"/>
<text x="60.30" y="1020.84" font-size="13.1" text-anchor="end" fill="#1a1a1a">20q</text>
<rect x="64.95" y="1022.88" width="17.90" height="10.35" fill="#cccccc"/>
<rect x="84.12" y="1022.58" width="18.50" height="10.95" fill="#92c846"/>
<rect x="103.89" y="1022.88" width="17.90" height="10.35" fill="#cccccc"/>
<rect x="123.36" y="1022.88" width="17.90" height="10.35" fill="#cccccc"/>
<rect x="142.83" y="1022.88" width="17.90" height="10.35" fill="#cccccc"/>
<rect x="162.30" y="1022.88" width="17.90" height="10.35" fill="#cccccc"/>
<rect x="181.77" y="1022.88" width="17.90" height="10.35" fill="#cccccc"/>
<rect x="201.24" y="1022.88" width="17.90" height="10.35" fill="#cccccc"/>
<rect x="223.45" y="1022.88" width="17.90" height="10.35" fill="#cccccc"/>
<rect x="242.92" y="1022.88" width="17.90" height="10.35" fill="#cccccc"/>
<rect x="262.39" y="1022.88" width="17.90" height="10.35" fill="#cccccc"/>
<rect x="281.86" y="1022.88" width="17.90" height="10.35" fill="#cccccc"/>
<rect x="301.33" y="1022.88" width="17.90" height="10.35" fill="#cccccc"/>
<rect x="320.50" y="1022.58" width="18.50" height="10.95" fill="#0092d0"/>
<rect x="340.27" y="1022.88" width="17.90" height="10.35" fill="#cccccc"/>
<rect x="359.74" y="1022.88" width="17.90" height="10.35" fill="#cccccc"/>
<rect x="379.21" y="1022.88" width="17.90" height="10.35" fill="#cccccc"/>
<rect x="398.68" y="1022.88" width="17.90" height="10.35" fill="#cccccc"/>
<rect x="419.85" y="1022.88" width="17.90" height="10.35" fill="#cccccc"/>
<rect x="439.32" y="1022.88" width="17.90" height="10.35" fill="#cccccc"/>
<text x="60.30" y="1032.98" font-size="13.1" text-anchor="end" fill="#1a1a1a">21q</text>
<rect x="466.10" y="1023.28" width="15.75" height="9.60" fill="#0092d0"/>
<rect x="481.85" y="1023.28" width="15.75" height="9.60" fill="#92c846"/>
<rect x="64.65" y="1034.72" width="18.50" height="10.95" fill="#0092d0"/>
<rect x="84.42" y="1035.02" width="17.90" height="10.35" fill="#cccccc"/>
<rect x="103.59" y="1034.72" width="18.50" height="10.95" fill="#92c846"/>
<rect x="123.36" y="1035.02" width="17.90" height="10.35" fill="#cccccc"/>
<rect x="142.83" y="1035.02" width="17.90" height="10.35" fill="#cccccc"/>
<rect x="162.00" y="1034.72" width="18.50" height="10.95" fill="#0092d0"/>
<rect x="181.77" y="1035.02" width="17.90" height="10.35" fill="#cccccc"/>
<rect x="200.94" y="1034.72" width="18.50" height="10.95" fill="#0092d0"/>
<rect x="223.15" y="1034.72" width="18.50" height="10.95" fill="#0092d0"/>
<rect x="242.92" y="1035.02" width="17.90" height="10.35" fill="#cccccc"/>
<rect x="262.09" y="1034.72" width="18.50" height="10.95" fill="#0092d0"/>
<rect x="281.86" y="1035.02" width="17.90" height="10.35" fill="#cccccc"/>
<rect x="301.03" y="1034.72" width="18.50" height="10.95" fill="#0092d0"/>
<rect x="320.50" y="1034.72" width="18.50" height="10.95" fill="#0092d0"/>
<rect x="340.27" y="1035.02" width="17.90" height="10.35" fill="#cccccc"/>
<rect x="359.74" y="1035.02" width="17.90" height="10.35" fill="#cccccc"/>
<rect x="379.21" y="1035.02" width="17.90" height="10.35" fill="#cccccc"/>
<rect x="398.68" y="1035.02" width="17.90" height="10.35" fill="#cccccc"/>
<rect x="419.85" y="1035.02" width="17.90" height="10.35" fill="#cccccc"/>
<rect x="439.32" y="1035.02" width="17.90" height="10.35" fill="#cccccc"/>
<text x="60.30" y="1045.12" font-size="13.1" text-anchor="end" fill="#1a1a1a">22q</text>
<rect x="466.10" y="1035.42" width="110.25" height="9.60" fill="#0092d0"/>
<rect x="576.35" y="1035.42" width="15.75" height="9.60" fill="#92c846"/>
<text x="76.90" y="1091.00" font-size="8.7" transform="rotate(-90 76.90 1091.00)" textLength="41.00" lengthAdjust="spacingAndGlyphs">MIST4_003</text>
<text x="96.37" y="1091.00" font-size="8.7" transform="rotate(-90 96.37 1091.00)" textLength="41.00" lengthAdjust="spacingAndGlyphs">MIST4_005</text>
<text x="115.84" y="1091.00" font-size="8.7" transform="rotate(-90 115.84 1091.00)" textLength="41.00" lengthAdjust="spacingAndGlyphs">MIST4_006</text>
<text x="135.31" y="1091.00" font-size="8.7" transform="rotate(-90 135.31 1091.00)" textLength="41.00" lengthAdjust="spacingAndGlyphs">MIST4_009</text>
<text x="154.78" y="1091.00" font-size="8.7" transform="rotate(-90 154.78 1091.00)" textLength="41.00" lengthAdjust="spacingAndGlyphs">MIST4_014</text>
<text x="174.25" y="1091.00" font-size="8.7" transform="rotate(-90 174.25 1091.00)" textLength="41.00" lengthAdjust="spacingAndGlyphs">MIST4_015</text>
<text x="193.72" y="1091.00" font-size="8.7" transform="rotate(-90 193.72 1091.00)" textLength="41.00" lengthAdjust="spacingAndGlyphs">MIST4_018</text>
<text x="213.19" y="1091.00" font-size="8.7" transform="rotate(-90 213.19 1091.00)" textLength="41.00" lengthAdjust="spacingAndGlyphs">MIST4_024</text>
<text x="235.40" y="1091.00" font-size="8.7" transform="rotate(-90 235.40 1091.00)" textLength="41.00" lengthAdjust="spacingAndGlyphs">MIST4_004</text>
<text x="254.87" y="1091.00" font-size="8.7" transform="rotate(-90 254.87 1091.00)" textLength="41.00" lengthAdjust="spacingAndGlyphs">MIST4_008</text>
<text x="274.34" y="1091.00" font-size="8.7" transform="rotate(-90 274.34 1091.00)" textLength="41.00" lengthAdjust="spacingAndGlyphs">MIST4_010</text>
<text x="293.81" y="1091.00" font-size="8.7" transform="rotate(-90 293.81 1091.00)" textLength="41.00" lengthAdjust="spacingAndGlyphs">MIST4_012</text>
<text x="313.28" y="1091.00" font-size="8.7" transform="rotate(-90 313.28 1091.00)" textLength="41.00" lengthAdjust="spacingAndGlyphs">MIST4_013</text>
<text x="332.75" y="1091.00" font-size="8.7" transform="rotate(-90 332.75 1091.00)" textLength="41.00" lengthAdjust="spacingAndGlyphs">MIST4_017</text>
<text x="352.22" y="1091.00" font-size="8.7" transform="rotate(-90 352.22 1091.00)" textLength="41.00" lengthAdjust="spacingAndGlyphs">MIST4_019</text>
<text x="371.69" y="1091.00" font-size="8.7" transform="rotate(-90 371.69 1091.00)" textLength="41.00" lengthAdjust="spacingAndGlyphs">MIST4_021</text>
<text x="391.16" y="1091.00" font-size="8.7" transform="rotate(-90 391.16 1091.00)" textLength="41.00" lengthAdjust="spacingAndGlyphs">MIST4_025</text>
<text x="410.63" y="1091.00" font-size="8.7" transform="rotate(-90 410.63 1091.00)" textLength="41.00" lengthAdjust="spacingAndGlyphs">MIST4_026</text>
<text x="431.80" y="1091.00" font-size="8.7" transform="rotate(-90 431.80 1091.00)" textLength="41.00" lengthAdjust="spacingAndGlyphs">MIST4_016</text>
<text x="451.27" y="1091.00" font-size="8.7" transform="rotate(-90 451.27 1091.00)" textLength="41.00" lengthAdjust="spacingAndGlyphs">MIST4_020</text>
<line x1="465.60" y1="1045.40" x2="598.50" y2="1045.40" stroke="#333" stroke-width="1"/>
<line x1="466.10" y1="1045.40" x2="466.10" y2="1048.60" stroke="#333" stroke-width="1"/>
<text x="469.30" y="1058.40" font-size="9.2" fill="#444" transform="rotate(-90 469.30 1058.40)">0</text>
<line x1="497.60" y1="1045.40" x2="497.60" y2="1048.60" stroke="#333" stroke-width="1"/>
<text x="500.80" y="1058.40" font-size="9.2" fill="#444" transform="rotate(-90 500.80 1058.40)">2</text>
<line x1="529.10" y1="1045.40" x2="529.10" y2="1048.60" stroke="#333" stroke-width="1"/>
<text x="532.30" y="1058.40" font-size="9.2" fill="#444" transform="rotate(-90 532.30 1058.40)">4</text>
<line x1="560.60" y1="1045.40" x2="560.60" y2="1048.60" stroke="#333" stroke-width="1"/>
<text x="563.80" y="1058.40" font-size="9.2" fill="#444" transform="rotate(-90 563.80 1058.40)">6</text>
<line x1="592.10" y1="1045.40" x2="592.10" y2="1048.60" stroke="#333" stroke-width="1"/>
<text x="595.30" y="1058.40" font-size="9.2" fill="#444" transform="rotate(-90 595.30 1058.40)">8</text>
<text transform="translate(27.40 905.84) rotate(-90) scale(0.22743 0.22600)" font-size="100">Chromosomal locus</text>
<text transform="translate(169.08 1119.20) scale(0.24028 0.20690)" font-size="100">Patient identifier</text>
<text x="472.30" y="1111.80" font-size="14.8" font-weight="bold" fill="#222" textLength="65.20" lengthAdjust="spacingAndGlyphs">CNV loss</text>
<rect x="547.10" y="1099.00" width="16.10" height="16.10" fill="#0092d0"/>
<text x="569.00" y="1111.80" font-size="14.7" fill="#333" textLength="31.00" lengthAdjust="spacingAndGlyphs">Loss</text>
<rect x="608.70" y="1099.00" width="16.10" height="16.10" fill="#92c846"/>
<text x="630.60" y="1111.80" font-size="14.7" fill="#333" textLength="31.10" lengthAdjust="spacingAndGlyphs">UPD</text>
<g filter="url(#bd)"><text transform="translate(616.55 483.30) scale(0.42301 0.62899)" font-size="100" font-weight="bold">E</text></g>
<rect x="753.40" y="461.30" width="203.50" height="20.20" fill="#5f0050"/>
<rect x="956.90" y="461.30" width="254.80" height="20.20" fill="#087e97"/>
<text x="748.90" y="477.20" font-size="16.4" text-anchor="end" fill="#111">esponse</text>
<rect x="754.54" y="490.80" width="23.60" height="32.90" fill="#fff" stroke="#c6dcec" stroke-width="0.95"/>
<rect x="779.96" y="490.80" width="23.60" height="32.90" fill="#fff" stroke="#c6dcec" stroke-width="0.95"/>
<rect x="805.38" y="490.80" width="23.60" height="32.90" fill="#fff" stroke="#c6dcec" stroke-width="0.95"/>
<rect x="830.80" y="490.80" width="23.60" height="32.90" fill="#fff" stroke="#c6dcec" stroke-width="0.95"/>
<rect x="856.22" y="490.80" width="23.60" height="32.90" fill="#fff" stroke="#c6dcec" stroke-width="0.95"/>
<rect x="881.64" y="490.80" width="23.60" height="32.90" fill="#fff" stroke="#c6dcec" stroke-width="0.95"/>
<rect x="907.06" y="490.80" width="23.60" height="32.90" fill="#fff" stroke="#c6dcec" stroke-width="0.95"/>
<rect x="932.48" y="490.80" width="23.60" height="32.90" fill="#fff" stroke="#c6dcec" stroke-width="0.95"/>
<rect x="957.90" y="490.80" width="23.60" height="32.90" fill="#fff" stroke="#c6dcec" stroke-width="0.95"/>
<rect x="983.32" y="490.80" width="23.60" height="32.90" fill="#fff" stroke="#c6dcec" stroke-width="0.95"/>
<rect x="1008.74" y="490.80" width="23.60" height="32.90" fill="#fff" stroke="#c6dcec" stroke-width="0.95"/>
<rect x="1034.16" y="490.80" width="23.60" height="32.90" fill="#fff" stroke="#c6dcec" stroke-width="0.95"/>
<rect x="1059.58" y="490.80" width="23.60" height="32.90" fill="#fff" stroke="#c6dcec" stroke-width="0.95"/>
<rect x="1085.00" y="490.80" width="23.60" height="32.90" fill="#fff" stroke="#c6dcec" stroke-width="0.95"/>
<rect x="1110.42" y="490.80" width="23.60" height="32.90" fill="#fff" stroke="#c6dcec" stroke-width="0.95"/>
<rect x="1135.84" y="490.80" width="23.60" height="32.90" fill="#fff" stroke="#c6dcec" stroke-width="0.95"/>
<rect x="1161.26" y="490.80" width="23.60" height="32.90" fill="#fff" stroke="#c6dcec" stroke-width="0.95"/>
<rect x="1186.68" y="490.80" width="23.60" height="32.90" fill="#fff" stroke="#c6dcec" stroke-width="0.95"/>
<rect x="1212.10" y="490.80" width="23.60" height="32.90" fill="#fff" stroke="#c6dcec" stroke-width="0.95"/>
<rect x="1237.52" y="490.80" width="23.60" height="32.90" fill="#fff" stroke="#c6dcec" stroke-width="0.95"/>
<rect x="754.54" y="528.00" width="23.60" height="32.90" fill="#fff" stroke="#c6dcec" stroke-width="0.95"/>
<rect x="779.96" y="528.00" width="23.60" height="32.90" fill="#fff" stroke="#c6dcec" stroke-width="0.95"/>
<rect x="805.38" y="528.00" width="23.60" height="32.90" fill="#fff" stroke="#c6dcec" stroke-width="0.95"/>
<rect x="830.80" y="528.00" width="23.60" height="32.90" fill="#fff" stroke="#c6dcec" stroke-width="0.95"/>
<rect x="856.22" y="528.00" width="23.60" height="32.90" fill="#fff" stroke="#c6dcec" stroke-width="0.95"/>
<rect x="881.64" y="528.00" width="23.60" height="32.90" fill="#fff" stroke="#c6dcec" stroke-width="0.95"/>
<rect x="907.06" y="528.00" width="23.60" height="32.90" fill="#fff" stroke="#c6dcec" stroke-width="0.95"/>
<rect x="932.48" y="528.00" width="23.60" height="32.90" fill="#fff" stroke="#c6dcec" stroke-width="0.95"/>
<rect x="957.90" y="528.00" width="23.60" height="32.90" fill="#fff" stroke="#c6dcec" stroke-width="0.95"/>
<rect x="983.32" y="528.00" width="23.60" height="32.90" fill="#fff" stroke="#c6dcec" stroke-width="0.95"/>
<rect x="1008.74" y="528.00" width="23.60" height="32.90" fill="#fff" stroke="#c6dcec" stroke-width="0.95"/>
<rect x="1034.16" y="528.00" width="23.60" height="32.90" fill="#fff" stroke="#c6dcec" stroke-width="0.95"/>
<rect x="1059.58" y="528.00" width="23.60" height="32.90" fill="#fff" stroke="#c6dcec" stroke-width="0.95"/>
<rect x="1085.00" y="528.00" width="23.60" height="32.90" fill="#fff" stroke="#c6dcec" stroke-width="0.95"/>
<rect x="1110.42" y="528.00" width="23.60" height="32.90" fill="#fff" stroke="#c6dcec" stroke-width="0.95"/>
<rect x="1135.84" y="528.00" width="23.60" height="32.90" fill="#fff" stroke="#c6dcec" stroke-width="0.95"/>
<rect x="1161.26" y="528.00" width="23.60" height="32.90" fill="#fff" stroke="#c6dcec" stroke-width="0.95"/>
<rect x="1186.68" y="528.00" width="23.60" height="32.90" fill="#fff" stroke="#c6dcec" stroke-width="0.95"/>
<rect x="1212.10" y="528.00" width="23.60" height="32.90" fill="#fff" stroke="#c6dcec" stroke-width="0.95"/>
<rect x="1237.52" y="528.00" width="23.60" height="32.90" fill="#fff" stroke="#c6dcec" stroke-width="0.95"/>
<rect x="754.54" y="565.30" width="23.60" height="32.90" fill="#fff" stroke="#c6dcec" stroke-width="0.95"/>
<rect x="779.96" y="565.30" width="23.60" height="32.90" fill="#fff" stroke="#c6dcec" stroke-width="0.95"/>
<rect x="805.38" y="565.30" width="23.60" height="32.90" fill="#fff" stroke="#c6dcec" stroke-width="0.95"/>
<rect x="830.80" y="565.30" width="23.60" height="32.90" fill="#fff" stroke="#c6dcec" stroke-width="0.95"/>
<rect x="856.22" y="565.30" width="23.60" height="32.90" fill="#fff" stroke="#c6dcec" stroke-width="0.95"/>
<rect x="881.64" y="565.30" width="23.60" height="32.90" fill="#fff" stroke="#c6dcec" stroke-width="0.95"/>
<rect x="907.06" y="565.30" width="23.60" height="32.90" fill="#fff" stroke="#c6dcec" stroke-width="0.95"/>
<rect x="932.48" y="565.30" width="23.60" height="32.90" fill="#fff" stroke="#c6dcec" stroke-width="0.95"/>
<rect x="957.90" y="565.30" width="23.60" height="32.90" fill="#fff" stroke="#c6dcec" stroke-width="0.95"/>
<rect x="983.32" y="565.30" width="23.60" height="32.90" fill="#fff" stroke="#c6dcec" stroke-width="0.95"/>
<rect x="1008.74" y="565.30" width="23.60" height="32.90" fill="#fff" stroke="#c6dcec" stroke-width="0.95"/>
<rect x="1034.16" y="565.30" width="23.60" height="32.90" fill="#fff" stroke="#c6dcec" stroke-width="0.95"/>
<rect x="1059.58" y="565.30" width="23.60" height="32.90" fill="#fff" stroke="#c6dcec" stroke-width="0.95"/>
<rect x="1085.00" y="565.30" width="23.60" height="32.90" fill="#fff" stroke="#c6dcec" stroke-width="0.95"/>
<rect x="1110.42" y="565.30" width="23.60" height="32.90" fill="#fff" stroke="#c6dcec" stroke-width="0.95"/>
<rect x="1135.84" y="565.30" width="23.60" height="32.90" fill="#fff" stroke="#c6dcec" stroke-width="0.95"/>
<rect x="1161.26" y="565.30" width="23.60" height="32.90" fill="#fff" stroke="#c6dcec" stroke-width="0.95"/>
<rect x="1186.68" y="565.30" width="23.60" height="32.90" fill="#fff" stroke="#c6dcec" stroke-width="0.95"/>
<rect x="1212.10" y="565.30" width="23.60" height="32.90" fill="#fff" stroke="#c6dcec" stroke-width="0.95"/>
<rect x="1237.52" y="565.30" width="23.60" height="32.90" fill="#fff" stroke="#c6dcec" stroke-width="0.95"/>
<rect x="754.54" y="602.50" width="23.60" height="32.90" fill="#fff" stroke="#c6dcec" stroke-width="0.95"/>
<rect x="779.96" y="602.50" width="23.60" height="32.90" fill="#fff" stroke="#c6dcec" stroke-width="0.95"/>
<rect x="805.38" y="602.50" width="23.60" height="32.90" fill="#fff" stroke="#c6dcec" stroke-width="0.95"/>
<rect x="830.80" y="602.50" width="23.60" height="32.90" fill="#fff" stroke="#c6dcec" stroke-width="0.95"/>
<rect x="856.22" y="602.50" width="23.60" height="32.90" fill="#fff" stroke="#c6dcec" stroke-width="0.95"/>
<rect x="881.64" y="602.50" width="23.60" height="32.90" fill="#fff" stroke="#c6dcec" stroke-width="0.95"/>
<rect x="907.06" y="602.50" width="23.60" height="32.90" fill="#fff" stroke="#c6dcec" stroke-width="0.95"/>
<rect x="932.48" y="602.50" width="23.60" height="32.90" fill="#fff" stroke="#c6dcec" stroke-width="0.95"/>
<rect x="957.90" y="602.50" width="23.60" height="32.90" fill="#fff" stroke="#c6dcec" stroke-width="0.95"/>
<rect x="983.32" y="602.50" width="23.60" height="32.90" fill="#fff" stroke="#c6dcec" stroke-width="0.95"/>
<rect x="1008.74" y="602.50" width="23.60" height="32.90" fill="#fff" stroke="#c6dcec" stroke-width="0.95"/>
<rect x="1034.16" y="602.50" width="23.60" height="32.90" fill="#fff" stroke="#c6dcec" stroke-width="0.95"/>
<rect x="1059.58" y="602.50" width="23.60" height="32.90" fill="#fff" stroke="#c6dcec" stroke-width="0.95"/>
<rect x="1085.00" y="602.50" width="23.60" height="32.90" fill="#fff" stroke="#c6dcec" stroke-width="0.95"/>
<rect x="1110.42" y="602.50" width="23.60" height="32.90" fill="#fff" stroke="#c6dcec" stroke-width="0.95"/>
<rect x="1135.84" y="602.50" width="23.60" height="32.90" fill="#fff" stroke="#c6dcec" stroke-width="0.95"/>
<rect x="1161.26" y="602.50" width="23.60" height="32.90" fill="#fff" stroke="#c6dcec" stroke-width="0.95"/>
<rect x="1186.68" y="602.50" width="23.60" height="32.90" fill="#fff" stroke="#c6dcec" stroke-width="0.95"/>
<rect x="1212.10" y="602.50" width="23.60" height="32.90" fill="#fff" stroke="#c6dcec" stroke-width="0.95"/>
<rect x="1237.52" y="602.50" width="23.60" height="32.90" fill="#fff" stroke="#c6dcec" stroke-width="0.95"/>
<rect x="754.54" y="639.70" width="23.60" height="32.90" fill="#fff" stroke="#c6dcec" stroke-width="0.95"/>
<rect x="779.96" y="639.70" width="23.60" height="32.90" fill="#fff" stroke="#c6dcec" stroke-width="0.95"/>
<rect x="805.38" y="639.70" width="23.60" height="32.90" fill="#fff" stroke="#c6dcec" stroke-width="0.95"/>
<rect x="830.80" y="639.70" width="23.60" height="32.90" fill="#fff" stroke="#c6dcec" stroke-width="0.95"/>
<rect x="856.22" y="639.70" width="23.60" height="32.90" fill="#fff" stroke="#c6dcec" stroke-width="0.95"/>
<rect x="881.64" y="639.70" width="23.60" height="32.90" fill="#fff" stroke="#c6dcec" stroke-width="0.95"/>
<rect x="907.06" y="639.70" width="23.60" height="32.90" fill="#fff" stroke="#c6dcec" stroke-width="0.95"/>
<rect x="932.48" y="639.70" width="23.60" height="32.90" fill="#fff" stroke="#c6dcec" stroke-width="0.95"/>
<rect x="957.90" y="639.70" width="23.60" height="32.90" fill="#fff" stroke="#c6dcec" stroke-width="0.95"/>
<rect x="983.32" y="639.70" width="23.60" height="32.90" fill="#fff" stroke="#c6dcec" stroke-width="0.95"/>
<rect x="1008.74" y="639.70" width="23.60" height="32.90" fill="#fff" stroke="#c6dcec" stroke-width="0.95"/>
<rect x="1034.16" y="639.70" width="23.60" height="32.90" fill="#fff" stroke="#c6dcec" stroke-width="0.95"/>
<rect x="1059.58" y="639.70" width="23.60" height="32.90" fill="#fff" stroke="#c6dcec" stroke-width="0.95"/>
<rect x="1085.00" y="639.70" width="23.60" height="32.90" fill="#fff" stroke="#c6dcec" stroke-width="0.95"/>
<rect x="1110.42" y="639.70" width="23.60" height="32.90" fill="#fff" stroke="#c6dcec" stroke-width="0.95"/>
<rect x="1135.84" y="639.70" width="23.60" height="32.90" fill="#fff" stroke="#c6dcec" stroke-width="0.95"/>
<rect x="1161.26" y="639.70" width="23.60" height="32.90" fill="#fff" stroke="#c6dcec" stroke-width="0.95"/>
<rect x="1186.68" y="639.70" width="23.60" height="32.90" fill="#fff" stroke="#c6dcec" stroke-width="0.95"/>
<rect x="1212.10" y="639.70" width="23.60" height="32.90" fill="#fff" stroke="#c6dcec" stroke-width="0.95"/>
<rect x="1237.52" y="639.70" width="23.60" height="32.90" fill="#fff" stroke="#c6dcec" stroke-width="0.95"/>
<text x="749.30" y="512.80" font-size="13.9" text-anchor="end" fill="#111">BAP1</text>
<rect x="754.89" y="490.75" width="22.92" height="33.20" fill="#6f3a7b" stroke="#8dc63f" stroke-width="2.5"/>
<rect x="780.31" y="490.75" width="22.92" height="33.20" fill="#fff" stroke="#8dc63f" stroke-width="2.5"/>
<rect x="831.15" y="490.75" width="22.92" height="33.20" fill="#5473ae" stroke="#0a95d3" stroke-width="2.5"/>
<rect x="856.57" y="490.75" width="22.92" height="33.20" fill="#6f3a7b" stroke="#8dc63f" stroke-width="2.5"/>
<rect x="907.41" y="490.75" width="22.92" height="33.20" fill="#fff" stroke="#8dc63f" stroke-width="2.5"/>
<rect x="958.25" y="490.75" width="22.92" height="33.20" fill="#fff" stroke="#1a4b9b" stroke-width="2.5"/>
<rect x="983.67" y="490.75" width="22.92" height="33.20" fill="#fff" stroke="#0a95d3" stroke-width="2.5"/>
<rect x="1009.09" y="490.75" width="22.92" height="33.20" fill="#fff" stroke="#0a95d3" stroke-width="2.5"/>
<rect x="1034.51" y="490.75" width="22.92" height="33.20" fill="#6f3a7b" stroke="#0a95d3" stroke-width="2.5"/>
<rect x="1059.93" y="490.75" width="22.92" height="33.20" fill="#fff" stroke="#1a4b9b" stroke-width="2.5"/>
<rect x="1111.12" y="491.50" width="22.22" height="31.70" fill="#6f3a7b"/>
<rect x="1212.45" y="490.75" width="22.92" height="33.20" fill="#fff" stroke="#1a4b9b" stroke-width="2.5"/>
<rect x="1237.87" y="490.75" width="22.92" height="33.20" fill="#d9731f" stroke="#8dc63f" stroke-width="2.5"/>
<text x="749.30" y="549.60" font-size="13.9" text-anchor="end" fill="#111">LATS1</text>
<rect x="754.89" y="527.95" width="22.92" height="33.20" fill="#fff" stroke="#0a95d3" stroke-width="2.5"/>
<rect x="780.31" y="527.95" width="22.92" height="33.20" fill="#fff" stroke="#0a95d3" stroke-width="2.5"/>
<rect x="805.73" y="527.95" width="22.92" height="33.20" fill="#fff" stroke="#0a95d3" stroke-width="2.5"/>
<rect x="831.15" y="527.95" width="22.92" height="33.20" fill="#f06154" stroke="#0a95d3" stroke-width="2.5"/>
<rect x="856.57" y="527.95" width="22.92" height="33.20" fill="#fff" stroke="#8dc63f" stroke-width="2.5"/>
<rect x="983.67" y="527.95" width="22.92" height="33.20" fill="#fff" stroke="#0a95d3" stroke-width="2.5"/>
<rect x="1009.09" y="527.95" width="22.92" height="33.20" fill="#fff" stroke="#0a95d3" stroke-width="2.5"/>
<rect x="1034.51" y="527.95" width="22.92" height="33.20" fill="#fff" stroke="#0a95d3" stroke-width="2.5"/>
<rect x="1110.77" y="527.95" width="22.92" height="33.20" fill="#fff" stroke="#0a95d3" stroke-width="2.5"/>
<rect x="1212.45" y="527.95" width="22.92" height="33.20" fill="#fff" stroke="#0a95d3" stroke-width="2.5"/>
<text x="749.30" y="586.80" font-size="13.9" text-anchor="end" fill="#111">SETD2</text>
<rect x="754.89" y="565.25" width="22.92" height="33.20" fill="#d9731f" stroke="#8dc63f" stroke-width="2.5"/>
<rect x="780.31" y="565.25" width="22.92" height="33.20" fill="#fff" stroke="#8dc63f" stroke-width="2.5"/>
<rect x="831.15" y="565.25" width="22.92" height="33.20" fill="#d9731f" stroke="#0a95d3" stroke-width="2.5"/>
<rect x="856.57" y="565.25" width="22.92" height="33.20" fill="#fff" stroke="#8dc63f" stroke-width="2.5"/>
<rect x="958.25" y="565.25" width="22.92" height="33.20" fill="#fff" stroke="#0a95d3" stroke-width="2.5"/>
<rect x="983.67" y="565.25" width="22.92" height="33.20" fill="#fff" stroke="#0a95d3" stroke-width="2.5"/>
<rect x="1009.09" y="565.25" width="22.92" height="33.20" fill="#fff" stroke="#0a95d3" stroke-width="2.5"/>
<rect x="1034.51" y="565.25" width="22.92" height="33.20" fill="#fff" stroke="#0a95d3" stroke-width="2.5"/>
<rect x="1237.87" y="565.25" width="22.92" height="33.20" fill="#fff" stroke="#8dc63f" stroke-width="2.5"/>
<text x="749.30" y="624.00" font-size="13.9" text-anchor="end" fill="#111">NF2</text>
<rect x="754.89" y="602.45" width="22.92" height="33.20" fill="#fff" stroke="#0a95d3" stroke-width="2.5"/>
<rect x="780.31" y="602.45" width="22.92" height="33.20" fill="#fff" stroke="#8dc63f" stroke-width="2.5"/>
<rect x="831.15" y="602.45" width="22.92" height="33.20" fill="#fff" stroke="#0a95d3" stroke-width="2.5"/>
<rect x="856.57" y="602.45" width="22.92" height="33.20" fill="#fff" stroke="#0a95d3" stroke-width="2.5"/>
<rect x="983.67" y="602.45" width="22.92" height="33.20" fill="#fff" stroke="#0a95d3" stroke-width="2.5"/>
<rect x="1009.09" y="602.45" width="22.92" height="33.20" fill="#6f3a7b" stroke="#0a95d3" stroke-width="2.5"/>
<rect x="1034.51" y="602.45" width="22.92" height="33.20" fill="#fff" stroke="#0a95d3" stroke-width="2.5"/>
<rect x="1110.77" y="602.45" width="22.92" height="33.20" fill="#fff" stroke="#0a95d3" stroke-width="2.5"/>
<text x="749.30" y="661.30" font-size="13.9" text-anchor="end" fill="#111">TP53</text>
<rect x="805.73" y="639.65" width="22.92" height="33.20" fill="#fff" stroke="#0a95d3" stroke-width="2.5"/>
<rect x="831.15" y="639.65" width="22.92" height="33.20" fill="#fff" stroke="#0a95d3" stroke-width="2.5"/>
<rect x="856.57" y="639.65" width="22.92" height="33.20" fill="#fff" stroke="#0a95d3" stroke-width="2.5"/>
<rect x="881.99" y="639.65" width="22.92" height="33.20" fill="#f06154" stroke="#8dc63f" stroke-width="2.5"/>
<rect x="907.41" y="639.65" width="22.92" height="33.20" fill="#fff" stroke="#0a95d3" stroke-width="2.5"/>
<rect x="983.67" y="639.65" width="22.92" height="33.20" fill="#fff" stroke="#8dc63f" stroke-width="2.5"/>
<rect x="1034.51" y="639.65" width="22.92" height="33.20" fill="#fff" stroke="#0a95d3" stroke-width="2.5"/>
<rect x="1136.19" y="639.65" width="22.92" height="33.20" fill="#fff" stroke="#0a95d3" stroke-width="2.5"/>
<text x="770.75" y="743.00" font-size="12.4" fill="#111" transform="rotate(-90 770.75 743.00)" textLength="64.30" lengthAdjust="spacingAndGlyphs">MIST4_015</text>
<text x="796.17" y="743.00" font-size="12.4" fill="#111" transform="rotate(-90 796.17 743.00)" textLength="64.30" lengthAdjust="spacingAndGlyphs">MIST4_006</text>
<text x="821.59" y="743.00" font-size="12.4" fill="#111" transform="rotate(-90 821.59 743.00)" textLength="64.30" lengthAdjust="spacingAndGlyphs">MIST4_009</text>
<text x="847.01" y="743.00" font-size="12.4" fill="#111" transform="rotate(-90 847.01 743.00)" textLength="64.30" lengthAdjust="spacingAndGlyphs">MIST4_003</text>
<text x="872.43" y="743.00" font-size="12.4" fill="#111" transform="rotate(-90 872.43 743.00)" textLength="64.30" lengthAdjust="spacingAndGlyphs">MIST4_024</text>
<text x="897.85" y="743.00" font-size="12.4" fill="#111" transform="rotate(-90 897.85 743.00)" textLength="64.30" lengthAdjust="spacingAndGlyphs">MIST4_005</text>
<text x="923.27" y="743.00" font-size="12.4" fill="#111" transform="rotate(-90 923.27 743.00)" textLength="64.30" lengthAdjust="spacingAndGlyphs">MIST4_014</text>
<text x="948.69" y="743.00" font-size="12.4" fill="#111" transform="rotate(-90 948.69 743.00)" textLength="64.30" lengthAdjust="spacingAndGlyphs">MIST4_018</text>
<text x="974.11" y="743.00" font-size="12.4" fill="#111" transform="rotate(-90 974.11 743.00)" textLength="64.30" lengthAdjust="spacingAndGlyphs">MIST4_019</text>
<text x="999.53" y="743.00" font-size="12.4" fill="#111" transform="rotate(-90 999.53 743.00)" textLength="64.30" lengthAdjust="spacingAndGlyphs">MIST4_013</text>
<text x="1024.95" y="743.00" font-size="12.4" fill="#111" transform="rotate(-90 1024.95 743.00)" textLength="64.30" lengthAdjust="spacingAndGlyphs">MIST4_004</text>
<text x="1050.37" y="743.00" font-size="12.4" fill="#111" transform="rotate(-90 1050.37 743.00)" textLength="64.30" lengthAdjust="spacingAndGlyphs">MIST4_017</text>
<text x="1075.79" y="743.00" font-size="12.4" fill="#111" transform="rotate(-90 1075.79 743.00)" textLength="64.30" lengthAdjust="spacingAndGlyphs">MIST4_026</text>
<text x="1101.21" y="743.00" font-size="12.4" fill="#111" transform="rotate(-90 1101.21 743.00)" textLength="64.30" lengthAdjust="spacingAndGlyphs">MIST4_012</text>
<text x="1126.63" y="743.00" font-size="12.4" fill="#111" transform="rotate(-90 1126.63 743.00)" textLength="64.30" lengthAdjust="spacingAndGlyphs">MIST4_010</text>
<text x="1152.05" y="743.00" font-size="12.4" fill="#111" transform="rotate(-90 1152.05 743.00)" textLength="64.30" lengthAdjust="spacingAndGlyphs">MIST4_021</text>
<text x="1177.47" y="743.00" font-size="12.4" fill="#111" transform="rotate(-90 1177.47 743.00)" textLength="64.30" lengthAdjust="spacingAndGlyphs">MIST4_008</text>
<text x="1202.89" y="743.00" font-size="12.4" fill="#111" transform="rotate(-90 1202.89 743.00)" textLength="64.30" lengthAdjust="spacingAndGlyphs">MIST4_025</text>
<text x="1228.31" y="743.00" font-size="12.4" fill="#111" transform="rotate(-90 1228.31 743.00)" textLength="64.30" lengthAdjust="spacingAndGlyphs">MIST4_016</text>
<text x="1253.73" y="743.00" font-size="12.4" fill="#111" transform="rotate(-90 1253.73 743.00)" textLength="64.30" lengthAdjust="spacingAndGlyphs">MIST4_020</text>
<text transform="translate(681.20 647.53) rotate(-90) scale(0.22525 0.21700)" font-size="100">Cancer Driver</text>
<text transform="translate(901.07 799.10) scale(0.24085 0.20414)" font-size="100">Patient identifier</text>
<text x="1271.50" y="480.90" font-size="13.6" font-weight="bold" fill="#111" textLength="60.60" lengthAdjust="spacingAndGlyphs">response</text>
<rect x="1271.30" y="489.90" width="15.00" height="14.00" fill="#5f0050"/>
<rect x="1271.30" y="505.90" width="15.00" height="14.00" fill="#087e97"/>
<text x="1290.90" y="501.50" font-size="13.4" fill="#222">NR</text>
<text x="1290.90" y="517.40" font-size="13.4" fill="#222">R</text>
<text x="1271.50" y="545.80" font-size="13.7" font-weight="bold" fill="#111" textLength="95.50" lengthAdjust="spacingAndGlyphs">Gene/ Somatic</text>
<rect x="1270.90" y="554.10" width="16.00" height="16.00" fill="#f06154"/>
<text x="1290.90" y="566.10" font-size="13.7" fill="#222">Missense</text>
<rect x="1270.90" y="570.10" width="16.00" height="16.00" fill="#5473ae"/>
<text x="1290.90" y="582.03" font-size="13.7" fill="#222">Splice</text>
<rect x="1270.90" y="586.10" width="16.00" height="16.00" fill="#d9731f"/>
<text x="1290.90" y="597.96" font-size="13.7" fill="#222">Nonsense</text>
<rect x="1270.90" y="602.10" width="16.00" height="16.00" fill="#6f3a7b"/>
<text x="1290.90" y="613.89" font-size="13.7" fill="#222">Frameshift</text>
<text x="1290.90" y="629.82" font-size="13.7" fill="#222">Loss</text>
<text x="1290.90" y="645.75" font-size="13.7" fill="#222">Deletion</text>
<text x="1290.90" y="661.68" font-size="13.7" fill="#222">UPD</text>
<g filter="url(#bd)"><text transform="translate(1378.66 484.10) scale(0.43725 0.62464)" font-size="100" font-weight="bold">F</text></g>
<text transform="translate(1539.70 481.60) scale(0.17730 0.16812)" font-size="100">A.U.</text>
<text transform="translate(1639.24 499.70) scale(0.20850 0.21000)" font-size="100" fill="#111">p=0.001</text>
<text x="1681.40" y="523.00" font-size="12.5" font-weight="bold" text-anchor="middle" fill="#111">*</text>
<line x1="1569.20" y1="501.35" x2="1569.20" y2="749.65" stroke="#000" stroke-width="2.3"/>
<line x1="1568.05" y1="748.50" x2="1793.90" y2="748.50" stroke="#000" stroke-width="2.3"/>
<line x1="1564.20" y1="748.50" x2="1569.20" y2="748.50" stroke="#000" stroke-width="2.3"/>
<text x="1563.40" y="754.01" font-size="12.8" font-weight="bold" text-anchor="end" textLength="6.62" lengthAdjust="spacingAndGlyphs">0</text>
<line x1="1564.20" y1="699.30" x2="1569.20" y2="699.30" stroke="#000" stroke-width="2.3"/>
<text x="1563.40" y="704.81" font-size="12.8" font-weight="bold" text-anchor="end" textLength="13.24" lengthAdjust="spacingAndGlyphs">20</text>
<line x1="1564.20" y1="650.10" x2="1569.20" y2="650.10" stroke="#000" stroke-width="2.3"/>
<text x="1563.40" y="655.61" font-size="12.8" font-weight="bold" text-anchor="end" textLength="13.24" lengthAdjust="spacingAndGlyphs">40</text>
<line x1="1564.20" y1="600.90" x2="1569.20" y2="600.90" stroke="#000" stroke-width="2.3"/>
<text x="1563.40" y="606.41" font-size="12.8" font-weight="bold" text-anchor="end" textLength="13.24" lengthAdjust="spacingAndGlyphs">60</text>
<line x1="1564.20" y1="551.70" x2="1569.20" y2="551.70" stroke="#000" stroke-width="2.3"/>
<text x="1563.40" y="557.21" font-size="12.8" font-weight="bold" text-anchor="end" textLength="13.24" lengthAdjust="spacingAndGlyphs">80</text>
<line x1="1564.20" y1="502.50" x2="1569.20" y2="502.50" stroke="#000" stroke-width="2.3"/>
<text x="1563.40" y="508.01" font-size="12.8" font-weight="bold" text-anchor="end" textLength="19.86" lengthAdjust="spacingAndGlyphs">100</text>
<line x1="1633.20" y1="748.50" x2="1633.20" y2="754.00" stroke="#000" stroke-width="2.3"/>
<text x="1633.20" y="766.20" font-size="14" font-weight="bold" text-anchor="middle" textLength="16.99" lengthAdjust="spacingAndGlyphs">NR</text>
<line x1="1729.60" y1="748.50" x2="1729.60" y2="754.00" stroke="#000" stroke-width="2.3"/>
<text x="1729.60" y="766.20" font-size="14" font-weight="bold" text-anchor="middle" textLength="8.49" lengthAdjust="spacingAndGlyphs">R</text>
<path d="M1633.20 529.40 V523.50 H1729.60 V610.40" stroke="#111" stroke-width="1.2" fill="none"/>
<line x1="1633.20" y1="536.94" x2="1633.20" y2="607.54" stroke="#000" stroke-width="2.7"/>
<line x1="1633.20" y1="673.72" x2="1633.20" y2="684.54" stroke="#000" stroke-width="2.7"/>
<line x1="1618.95" y1="536.94" x2="1647.45" y2="536.94" stroke="#000" stroke-width="2.7"/>
<line x1="1618.95" y1="684.54" x2="1647.45" y2="684.54" stroke="#000" stroke-width="2.7"/>
<rect x="1602.10" y="607.54" width="62.20" height="66.17" fill="#5f0050" stroke="#000" stroke-width="2.7"/>
<line x1="1602.10" y1="637.80" x2="1664.30" y2="637.80" stroke="#000" stroke-width="2.7"/>
<circle cx="1633.20" cy="536.94" r="3.6" fill="#000"/>
<circle cx="1633.20" cy="598.44" r="3.6" fill="#000"/>
<circle cx="1640.10" cy="627.96" r="3.6" fill="#000"/>
<circle cx="1626.30" cy="632.88" r="3.6" fill="#000"/>
<circle cx="1633.20" cy="642.72" r="3.6" fill="#000"/>
<circle cx="1626.30" cy="672.24" r="3.6" fill="#000"/>
<circle cx="1640.10" cy="674.70" r="3.6" fill="#000"/>
<circle cx="1633.20" cy="684.54" r="3.6" fill="#000"/>
<line x1="1729.60" y1="618.12" x2="1729.60" y2="655.76" stroke="#000" stroke-width="2.7"/>
<line x1="1729.60" y1="721.93" x2="1729.60" y2="738.66" stroke="#000" stroke-width="2.7"/>
<line x1="1715.35" y1="618.12" x2="1743.85" y2="618.12" stroke="#000" stroke-width="2.7"/>
<line x1="1715.35" y1="738.66" x2="1743.85" y2="738.66" stroke="#000" stroke-width="2.7"/>
<rect x="1699.10" y="655.76" width="61.00" height="66.17" fill="#087e97" stroke="#000" stroke-width="2.7"/>
<line x1="1699.10" y1="683.56" x2="1760.10" y2="683.56" stroke="#000" stroke-width="2.7"/>
<circle cx="1729.60" cy="618.12" r="3.6" fill="#000"/>
<circle cx="1722.40" cy="652.56" r="3.6" fill="#000"/>
<circle cx="1736.20" cy="655.02" r="3.6" fill="#000"/>
<circle cx="1729.00" cy="664.86" r="3.6" fill="#000"/>
<circle cx="1729.00" cy="679.62" r="3.6" fill="#000"/>
<circle cx="1722.40" cy="687.00" r="3.6" fill="#000"/>
<circle cx="1736.20" cy="689.46" r="3.6" fill="#000"/>
<circle cx="1729.00" cy="718.98" r="3.6" fill="#000"/>
<circle cx="1736.20" cy="733.74" r="3.6" fill="#000"/>
<circle cx="1722.40" cy="738.66" r="3.6" fill="#000"/>
<text transform="translate(1536.20 653.33) rotate(-90) scale(0.14244 0.13800)" font-size="100" font-weight="bold">HRDsum</text>
<g filter="url(#bd)"><text transform="translate(618.13 885.88) scale(0.54222 0.61972)" font-size="100" font-weight="bold">G</text></g>
<text transform="translate(830.00 846.90) scale(0.16703 0.16232)" font-size="100">A.U.</text>
<line x1="871.40" y1="861.45" x2="871.40" y2="1047.30" stroke="#000" stroke-width="2.6"/>
<line x1="870.10" y1="1046.00" x2="1148.20" y2="1046.00" stroke="#000" stroke-width="2.6"/>
<line x1="863.40" y1="1046.00" x2="871.40" y2="1046.00" stroke="#000" stroke-width="2.6"/>
<text x="860.70" y="1053.40" font-size="18.8" font-weight="bold" text-anchor="end">0</text>
<line x1="863.40" y1="1009.35" x2="871.40" y2="1009.35" stroke="#000" stroke-width="2.6"/>
<text x="860.70" y="1016.75" font-size="18.8" font-weight="bold" text-anchor="end">20</text>
<line x1="863.40" y1="972.70" x2="871.40" y2="972.70" stroke="#000" stroke-width="2.6"/>
<text x="860.70" y="980.10" font-size="18.8" font-weight="bold" text-anchor="end">40</text>
<line x1="863.40" y1="936.05" x2="871.40" y2="936.05" stroke="#000" stroke-width="2.6"/>
<text x="860.70" y="943.45" font-size="18.8" font-weight="bold" text-anchor="end">60</text>
<line x1="863.40" y1="899.40" x2="871.40" y2="899.40" stroke="#000" stroke-width="2.6"/>
<text x="860.70" y="906.80" font-size="18.8" font-weight="bold" text-anchor="end">80</text>
<line x1="863.40" y1="862.75" x2="871.40" y2="862.75" stroke="#000" stroke-width="2.6"/>
<text x="860.70" y="870.15" font-size="18.8" font-weight="bold" text-anchor="end">100</text>
<line x1="871.40" y1="1046.00" x2="871.40" y2="1054.20" stroke="#000" stroke-width="2.6"/>
<text x="871.40" y="1074.50" font-size="18.8" font-weight="bold" text-anchor="middle">0</text>
<line x1="963.30" y1="1046.00" x2="963.30" y2="1054.20" stroke="#000" stroke-width="2.6"/>
<text x="963.30" y="1074.50" font-size="18.8" font-weight="bold" text-anchor="middle">20</text>
<line x1="1055.20" y1="1046.00" x2="1055.20" y2="1054.20" stroke="#000" stroke-width="2.6"/>
<text x="1055.20" y="1074.50" font-size="18.8" font-weight="bold" text-anchor="middle">40</text>
<line x1="1147.10" y1="1046.00" x2="1147.10" y2="1054.20" stroke="#000" stroke-width="2.6"/>
<text x="1147.10" y="1074.50" font-size="18.8" font-weight="bold" text-anchor="middle">60</text>
<text transform="translate(817.50 998.07) rotate(-90) scale(0.22683 0.22000)" font-size="100" font-weight="bold">HRDsum</text>
<text transform="translate(949.73 1107.20) scale(0.22662 0.22857)" font-size="100" font-weight="bold">DDR SCNA</text>
<circle cx="871.40" cy="1038.67" r="4.8" fill="#087e97"/>
<circle cx="894.38" cy="1035.01" r="4.8" fill="#087e97"/>
<circle cx="898.97" cy="1024.01" r="4.8" fill="#087e97"/>
<circle cx="940.32" cy="994.69" r="4.8" fill="#087e97"/>
<circle cx="944.92" cy="1000.19" r="4.8" fill="#087e97"/>
<circle cx="949.51" cy="974.53" r="4.8" fill="#087e97"/>
<circle cx="1000.06" cy="976.37" r="4.8" fill="#087e97"/>
<circle cx="1009.25" cy="948.88" r="4.8" fill="#087e97"/>
<circle cx="1004.65" cy="991.02" r="4.8" fill="#087e97"/>
<circle cx="1023.03" cy="983.70" r="4.8" fill="#087e97"/>
<circle cx="1000.06" cy="1002.02" r="4.8" fill="#087e97"/>
<circle cx="963.30" cy="934.22" r="4.8" fill="#5f0050"/>
<circle cx="963.30" cy="959.87" r="4.8" fill="#5f0050"/>
<circle cx="977.08" cy="967.20" r="4.8" fill="#5f0050"/>
<circle cx="967.89" cy="989.19" r="4.8" fill="#5f0050"/>
<circle cx="1000.06" cy="956.21" r="4.8" fill="#5f0050"/>
<circle cx="1055.20" cy="998.36" r="4.8" fill="#5f0050"/>
<circle cx="1119.53" cy="888.40" r="4.8" fill="#5f0050"/>
<circle cx="1179.80" cy="818.70" r="4.8" fill="#087e97"/>
<circle cx="1179.80" cy="843.60" r="4.8" fill="#5f0050"/>
<text x="1192.40" y="829.30" font-size="19.4" fill="#111">R</text>
<text x="1192.40" y="854.80" font-size="19.4" fill="#111">NR</text>
<g filter="url(#bd)"><text transform="translate(1377.13 886.40) scale(0.53390 0.62899)" font-size="100" font-weight="bold">H</text></g>
<text transform="translate(1498.90 850.90) scale(0.16865 0.16812)" font-size="100">A.U.</text>
<line x1="1531.60" y1="902.75" x2="1994.00" y2="902.75" stroke="#fafafa" stroke-width="0.6"/>
<line x1="1531.60" y1="943.85" x2="1994.00" y2="943.85" stroke="#fafafa" stroke-width="0.6"/>
<line x1="1531.60" y1="984.95" x2="1994.00" y2="984.95" stroke="#fafafa" stroke-width="0.6"/>
<line x1="1531.60" y1="1026.05" x2="1994.00" y2="1026.05" stroke="#fafafa" stroke-width="0.6"/>
<line x1="1612.60" y1="865.00" x2="1612.60" y2="1050.50" stroke="#fafafa" stroke-width="0.6"/>
<line x1="1729.00" y1="865.00" x2="1729.00" y2="1050.50" stroke="#fafafa" stroke-width="0.6"/>
<line x1="1845.40" y1="865.00" x2="1845.40" y2="1050.50" stroke="#fafafa" stroke-width="0.6"/>
<line x1="1961.80" y1="865.00" x2="1961.80" y2="1050.50" stroke="#fafafa" stroke-width="0.6"/>
<line x1="1531.60" y1="923.30" x2="1994.00" y2="923.30" stroke="#efefef" stroke-width="1"/>
<line x1="1531.60" y1="964.40" x2="1994.00" y2="964.40" stroke="#efefef" stroke-width="1"/>
<line x1="1531.60" y1="1005.50" x2="1994.00" y2="1005.50" stroke="#efefef" stroke-width="1"/>
<line x1="1531.60" y1="1046.60" x2="1994.00" y2="1046.60" stroke="#efefef" stroke-width="1"/>
<line x1="1554.40" y1="865.00" x2="1554.40" y2="1050.50" stroke="#efefef" stroke-width="1"/>
<line x1="1670.80" y1="865.00" x2="1670.80" y2="1050.50" stroke="#efefef" stroke-width="1"/>
<line x1="1787.20" y1="865.00" x2="1787.20" y2="1050.50" stroke="#efefef" stroke-width="1"/>
<line x1="1903.60" y1="865.00" x2="1903.60" y2="1050.50" stroke="#efefef" stroke-width="1"/>
<text x="1529.30" y="889.50" font-size="20.3" text-anchor="end" fill="#4d4d4d">0.0</text>
<line x1="1529.80" y1="882.20" x2="1531.80" y2="882.20" stroke="#555" stroke-width="0.8"/>
<text x="1529.30" y="930.60" font-size="20.3" text-anchor="end" fill="#4d4d4d">-0.1</text>
<line x1="1529.80" y1="923.30" x2="1531.80" y2="923.30" stroke="#555" stroke-width="0.8"/>
<text x="1529.30" y="971.70" font-size="20.3" text-anchor="end" fill="#4d4d4d">-0.2</text>
<line x1="1529.80" y1="964.40" x2="1531.80" y2="964.40" stroke="#555" stroke-width="0.8"/>
<text x="1529.30" y="1012.80" font-size="20.3" text-anchor="end" fill="#4d4d4d">-0.3</text>
<line x1="1529.80" y1="1005.50" x2="1531.80" y2="1005.50" stroke="#555" stroke-width="0.8"/>
<text x="1529.30" y="1053.90" font-size="20.3" text-anchor="end" fill="#4d4d4d">-0.4</text>
<line x1="1529.80" y1="1046.60" x2="1531.80" y2="1046.60" stroke="#555" stroke-width="0.8"/>
<text x="1554.40" y="1070.30" font-size="20.3" text-anchor="middle" fill="#4d4d4d">0</text>
<line x1="1554.40" y1="1050.50" x2="1554.40" y2="1052.50" stroke="#555" stroke-width="0.8"/>
<text x="1670.80" y="1070.30" font-size="20.3" text-anchor="middle" fill="#4d4d4d">5000</text>
<line x1="1670.80" y1="1050.50" x2="1670.80" y2="1052.50" stroke="#555" stroke-width="0.8"/>
<text x="1787.20" y="1070.30" font-size="20.3" text-anchor="middle" fill="#4d4d4d">10000</text>
<line x1="1787.20" y1="1050.50" x2="1787.20" y2="1052.50" stroke="#555" stroke-width="0.8"/>
<text x="1903.60" y="1070.30" font-size="20.3" text-anchor="middle" fill="#4d4d4d">15000</text>
<line x1="1903.60" y1="1050.50" x2="1903.60" y2="1052.50" stroke="#555" stroke-width="0.8"/>
<line x1="1531.60" y1="879.80" x2="1994.00" y2="879.80" stroke="#f68a8a" stroke-width="1.4" stroke-dasharray="1.4 1.3"/>
<line x1="1531.60" y1="1042.10" x2="1994.00" y2="1042.10" stroke="#f68a8a" stroke-width="1.4" stroke-dasharray="1.4 1.3"/>
<line x1="1531.60" y1="882.20" x2="1994.00" y2="882.20" stroke="#333" stroke-width="1"/>
<path d="M1572.69 871.4V891.9M1579.58 871.4V891.9M1580.32 871.4V891.9M1581.07 871.4V891.9M1584.61 871.4V891.9M1586.47 871.4V891.9M1593.54 871.4V891.9M1603.41 871.4V891.9M1609.93 871.4V891.9M1618.31 871.4V891.9M1619.42 871.4V891.9M1620.17 871.4V891.9M1622.03 871.4V891.9M1634.50 871.4V891.9M1639.16 871.4V891.9M1642.32 871.4V891.9M1654.43 871.4V891.9M1662.43 871.4V891.9M1663.36 871.4V891.9M1664.29 871.4V891.9M1665.22 871.4V891.9M1666.16 871.4V891.9M1667.09 871.4V891.9M1673.04 871.4V891.9M1673.42 871.4V891.9M1673.79 871.4V891.9M1676.40 871.4V891.9M1679.19 871.4V891.9M1681.61 871.4V891.9M1682.54 871.4V891.9M1683.84 871.4V891.9M1684.59 871.4V891.9M1685.15 871.4V891.9M1688.50 871.4V891.9M1695.94 871.4V891.9M1696.88 871.4V891.9M1698.18 871.4V891.9M1702.09 871.4V891.9M1706.74 871.4V891.9M1713.26 871.4V891.9M1714.00 871.4V891.9M1714.75 871.4V891.9M1715.49 871.4V891.9M1716.24 871.4V891.9M1725.55 871.4V891.9M1726.11 871.4V891.9M1726.67 871.4V891.9M1742.12 871.4V891.9M1744.35 871.4V891.9M1746.21 871.4V891.9M1748.64 871.4V891.9M1750.87 871.4V891.9M1754.59 871.4V891.9M1755.15 871.4V891.9M1755.71 871.4V891.9M1758.88 871.4V891.9M1754.93 871.4V891.9M1755.49 871.4V891.9M1755.86 871.4V891.9M1756.23 871.4V891.9M1759.59 871.4V891.9M1763.31 871.4V891.9M1765.17 871.4V891.9M1767.96 871.4V891.9M1770.76 871.4V891.9M1772.06 871.4V891.9M1774.11 871.4V891.9M1782.11 871.4V891.9M1782.49 871.4V891.9M1789.38 871.4V891.9M1790.68 871.4V891.9M1795.89 871.4V891.9M1801.10 871.4V891.9M1802.04 871.4V891.9M1803.34 871.4V891.9M1804.64 871.4V891.9M1806.13 871.4V891.9M1807.62 871.4V891.9M1809.30 871.4V891.9M1810.79 871.4V891.9M1812.09 871.4V891.9M1813.58 871.4V891.9M1814.14 871.4V891.9M1814.70 871.4V891.9M1818.23 871.4V891.9M1821.03 871.4V891.9M1825.31 871.4V891.9M1826.24 871.4V891.9M1832.20 871.4V891.9M1852.31 871.4V891.9M1852.68 871.4V891.9M1853.05 871.4V891.9M1855.47 871.4V891.9M1855.84 871.4V891.9M1857.89 871.4V891.9M1859.19 871.4V891.9M1860.50 871.4V891.9M1864.41 871.4V891.9M1874.09 871.4V891.9M1875.02 871.4V891.9M1876.32 871.4V891.9M1877.44 871.4V891.9M1878.74 871.4V891.9M1880.05 871.4V891.9M1881.16 871.4V891.9M1886.19 871.4V891.9M1887.12 871.4V891.9M1890.85 871.4V891.9M1892.71 871.4V891.9M1894.01 871.4V891.9M1895.13 871.4V891.9M1895.87 871.4V891.9M1896.43 871.4V891.9M1900.16 871.4V891.9M1901.09 871.4V891.9M1902.58 871.4V891.9M1903.51 871.4V891.9M1910.02 871.4V891.9M1912.26 871.4V891.9M1912.82 871.4V891.9M1913.37 871.4V891.9M1914.12 871.4V891.9M1918.77 871.4V891.9M1919.70 871.4V891.9M1921.01 871.4V891.9M1921.94 871.4V891.9M1929.01 871.4V891.9M1929.94 871.4V891.9M1931.25 871.4V891.9M1932.37 871.4V891.9M1933.67 871.4V891.9M1935.53 871.4V891.9M1937.39 871.4V891.9M1938.70 871.4V891.9M1943.91 871.4V891.9M1944.84 871.4V891.9M1946.70 871.4V891.9M1947.63 871.4V891.9M1949.49 871.4V891.9M1950.80 871.4V891.9M1951.73 871.4V891.9M1954.15 871.4V891.9M1954.71 871.4V891.9M1955.45 871.4V891.9M1956.01 871.4V891.9M1956.76 871.4V891.9M1957.31 871.4V891.9M1958.06 871.4V891.9M1958.62 871.4V891.9M1959.36 871.4V891.9M1959.92 871.4V891.9M1960.67 871.4V891.9M1963.83 871.4V891.9M1964.39 871.4V891.9M1969.42 871.4V891.9M1972.21 871.4V891.9M1972.77 871.4V891.9" stroke="#000" stroke-width="0.85" fill="none" stroke-opacity="0.55"/>
<path d="M1554.44 882.21 L1572.69 900.64 L1573.44 894.31 L1579.21 900.27 L1579.95 894.68 L1581.07 894.13 L1581.81 889.47 L1584.23 886.31 L1584.98 883.51 L1586.47 885.00 L1587.03 879.79 L1593.17 886.31 L1593.92 882.58 L1603.04 891.33 L1603.78 887.24 L1609.56 893.19 L1610.30 889.47 L1617.75 897.48 L1618.68 893.38 L1620.17 893.19 L1620.91 891.89 L1622.03 887.24 L1633.95 899.34 L1634.88 895.62 L1638.79 900.27 L1639.53 895.62 L1641.95 896.55 L1642.70 894.68 L1654.05 906.79 L1654.61 904.37 L1662.43 912.37 L1662.99 910.51 L1664.48 912.37 L1666.16 909.58 L1672.30 916.65 L1673.23 912.93 L1676.02 915.54 L1676.77 914.42 L1679.75 917.96 L1681.61 917.40 L1683.47 919.26 L1684.22 916.28 L1685.70 917.40 L1686.26 916.10 L1688.50 917.40 L1695.94 924.47 L1697.81 923.92 L1702.09 928.20 L1706.74 931.18 L1712.70 936.20 L1713.63 934.71 L1716.43 935.46 L1725.36 943.09 L1726.29 942.35 L1742.12 957.43 L1759.99 973.81 L1763.31 976.61 L1771.69 984.43 L1781.93 993.92 L1790.31 1000.44 L1795.89 1004.91 L1800.55 1008.63 L1807.06 1011.05 L1813.58 1014.22 L1819.16 1016.26 L1824.75 1019.06 L1826.24 1017.57 L1832.20 1022.78 L1851.75 1041.77 L1852.68 1034.32 L1855.47 1029.67 L1860.13 1029.30 L1864.78 1030.23 L1873.72 1041.40 L1875.02 1036.19 L1877.81 1030.60 L1881.16 1023.15 L1882.47 1025.94 L1884.33 1026.88 L1886.56 1025.01 L1888.05 1027.81 L1890.85 1029.67 L1892.71 1028.74 L1894.57 1029.67 L1896.43 1023.15 L1898.29 1020.36 L1900.16 1022.22 L1902.02 1011.98 L1903.51 1009.19 L1910.40 1017.01 L1912.26 1011.98 L1914.49 1001.74 L1918.77 1006.77 L1920.64 998.95 L1922.13 989.27 L1928.64 996.53 L1930.88 988.71 L1933.67 983.12 L1935.53 976.61 L1937.39 973.81 L1938.70 968.60 L1944.47 974.37 L1945.77 965.43 L1947.63 956.13 L1949.49 951.47 L1950.80 947.19 L1954.15 951.10 L1954.71 931.92 L1956.01 921.68 L1957.31 911.44 L1958.80 903.99 L1960.67 895.24 L1963.46 899.34 L1964.39 890.96 L1969.42 898.04 L1970.53 888.73 L1972.21 890.59 L1972.77 882.21" stroke="#22e322" stroke-width="0.8" fill="none" stroke-linejoin="round"/>
<text transform="translate(1487.50 1060.17) rotate(-90) scale(0.26829 0.26500)" font-size="100" fill="#1a1a1a">enrichment score</text>
<text x="1763.60" y="1094.80" font-size="25.6" text-anchor="middle" fill="#1a1a1a">rank</text>
<text transform="translate(1577.27 1099.80) scale(0.16639 0.19710)" font-size="100">R</text>
<text transform="translate(1881.51 1099.80) scale(0.18631 0.19710)" font-size="100">NR</text>
</svg>
</body></html>
